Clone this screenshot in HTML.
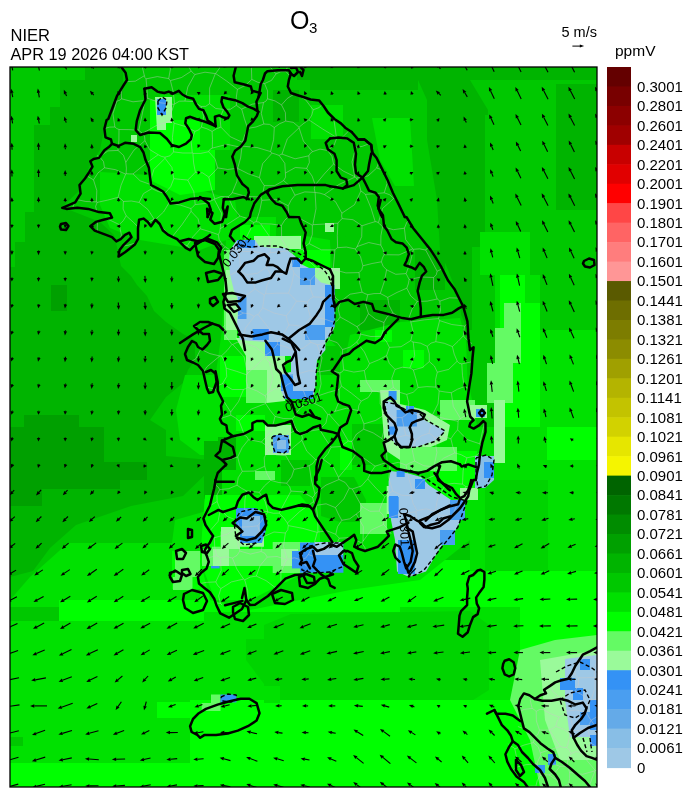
<!DOCTYPE html><html><head><meta charset="utf-8"><style>html,body{margin:0;padding:0;background:#fff;}svg{display:block;}text{font-family:"Liberation Sans",Arial,sans-serif;fill:#000;}.lb{font-size:15px;}</style></head><body>
<svg width="692" height="798" viewBox="0 0 692 798">
<rect width="692" height="798" fill="#fff"/>
<text x="290" y="28.8" style="font-size:25px">O</text>
<text x="309" y="33.4" style="font-size:15px">3</text>
<text x="10.5" y="41.2" style="font-size:16.5px">NIER</text>
<text x="10.5" y="59.5" style="font-size:16.5px" textLength="178.5" lengthAdjust="spacingAndGlyphs">APR 19 2026 04:00 KST</text>
<text x="561.5" y="37.2" style="font-size:14.5px">5 m/s</text>
<path d="M572.4 46.1 H581" stroke="#000" stroke-width="1"/><path d="M584.2 46.1 L579.8 44.6 L579.8 47.6 Z" fill="#000"/>
<text x="615" y="56.3" style="font-size:15.5px">ppmV</text>
<defs><clipPath id="mc"><rect x="10" y="67" width="587" height="720"/></clipPath></defs>
<g clip-path="url(#mc)">
<rect x="10" y="67" width="587" height="720" fill="#00c800"/>
<polygon points="60,80 85,80 85,67 123,67 123,96 112,112 104,130 100,150 90,165 80,190 62,207 100,222 114,235 117,247 121,266 131,276 137,285 147,296 154,311 166,322 183,334 195,340 195,360 188,370 183,383 166,397 150,420 166,430 166,456 210,460 210,470 183,496 131,506 76,525 50,548 33,571 10,577 10,267 15,267 15,242 25,242 25,212 34,212 34,125 50,125 50,107 60,107" fill="#00b400"/>
<polygon points="24,415 79,415 79,427 104,427 104,462 147,462 147,480 120,480 120,489 42,489 42,506 10,506 10,427 24,427" fill="#00a000"/>
<polygon points="51,285 67,285 67,311 51,311" fill="#00a000"/>
<polygon points="10,600 30,577 68,543 172,543 175,520 210,510 210,607 10,607" fill="#00e100"/>
<polygon points="10,589 210,589 210,551 172,551 172,589" fill="#00ff00"/>
<polygon points="59,600 210,600 210,621 59,621" fill="#00ff00"/>
<polygon points="10,621 210,621 210,763 10,763" fill="#00e100"/>
<polygon points="157,702 210,702 210,718 157,718" fill="#00ff00"/>
<polygon points="10,763 210,763 210,787 10,787" fill="#00ff00"/>
<polygon points="10,737 23,737 23,746 10,746" fill="#00c800"/>
<polygon points="204,600 520,600 520,787 204,787" fill="#00e100"/>
<polygon points="204,594 400,594 400,612 204,612" fill="#00ff00"/>
<polygon points="246,639 264,639 264,625 291,614 470,611 489,625 489,690 470,702 343,706 265,703 264,684 246,660" fill="#00d400"/>
<polygon points="190,700 560,700 560,787 190,787" fill="#00ff00"/>
<polygon points="264,686 280,686 280,703 264,703" fill="#00e100"/>
<polygon points="520,600 597,600 597,787 520,787" fill="#00ff00"/>
<polygon points="400,600 520,600 520,611 400,611" fill="#00e100"/>
<polygon points="200,560 470,560 470,607 200,607" fill="#00ff00"/>
<polygon points="297,67 597,67 597,80 297,80" fill="#00b400"/>
<polygon points="310,80 418,80 418,90 310,90" fill="#00b400"/>
<polygon points="330,95 380,92 418,90 427,100 427,140 437,200 440,260 460,300 462,330 440,330 420,250 404,217 380,170 350,130" fill="#00c800"/>
<polygon points="372,118 410,118 414,186 395,186 380,160" fill="#00e100"/>
<polygon points="418,80 470,80 488,110 488,300 475,330 462,330 460,300 440,250 437,200 427,140 427,100" fill="#00b400"/>
<polygon points="485,115 556,115 556,275 485,275" fill="#00c800"/>
<polygon points="556,84 597,84 597,210 556,210" fill="#00b400"/>
<polygon points="540,210 597,210 597,330 540,330" fill="#00c800"/>
<polygon points="488,275 540,275 540,330 488,330" fill="#00e100"/>
<polygon points="495,330 597,330 597,427 495,427" fill="#00e100"/>
<polygon points="472,247 495,247 495,391 472,391" fill="#00c800"/>
<polygon points="480,232 530,232 530,275 480,275" fill="#00e100"/>
<polygon points="500,275 525,275 525,303 500,303" fill="#00ff00"/>
<polygon points="500,303 540,303 540,427 500,427" fill="#00ff00"/>
<polygon points="504,303 521,303 521,363 513,363 513,403 504,403 504,427 495,427 495,403 487,403 487,363 495,363 495,328 504,328" fill="#64fa64"/>
<polygon points="470,427 597,427 597,571 470,571" fill="#00e100"/>
<polygon points="485,480 548,480 548,571 485,571" fill="#00d400"/>
<polygon points="495,427 504,427 504,456 495,456" fill="#9afa9a"/>
<polygon points="470,571 597,571 597,607 470,607" fill="#00ff00"/>
<polygon points="547,427 597,427 597,460 547,460" fill="#00ff00"/>
<polygon points="100,172 150,175 200,190 235,200 240,235 200,250 140,240 110,228 100,205" fill="#00e100"/>
<polygon points="150,100 200,100 215,130 215,190 180,195 150,180" fill="#00ff00"/>
<polygon points="160,95 230,95 230,150 160,150" fill="#00e100"/>
<polygon points="160,120 200,120 200,150 160,150" fill="#00ff00"/>
<polygon points="157,135 185,135 185,170 157,170" fill="#00ff00"/>
<polygon points="273,90 299,90 299,122 273,122" fill="#00b400"/>
<polygon points="311,105 343,105 343,139 311,139" fill="#00e100"/>
<polygon points="233,217 276,217 276,247 233,247" fill="#00e100"/>
<polygon points="240,225 270,225 270,247 240,247" fill="#00ff00"/>
<polygon points="325,223 334,223 334,232 325,232" fill="#9afa9a"/>
<polygon points="131,135 137,135 137,142 131,142" fill="#9afa9a"/>
<polygon points="155,97 172,97 172,123 166,123 166,130 157,130" fill="#9afa9a"/>
<polygon points="157,99 166,99 166,115 157,115" fill="#3492f5"/>
<polygon points="226,240 300,235 330,240 334,289 320,300 320,330 340,350 360,380 400,380 470,390 480,440 480,520 470,540 420,580 350,590 300,600 250,610 210,600 200,560 205,500 215,470 215,380 222,330" fill="#00e100"/>
<polygon points="185,375 215,375 222,400 222,455 200,455 180,440 176,410" fill="#00e100"/>
<polygon points="330,240 380,230 420,240 445,280 468,330 468,380 430,380 400,370 360,365 340,350 325,330 334,289" fill="#00c800"/>
<polygon points="360,300 400,300 400,330 360,330" fill="#00b400"/>
<polygon points="415,250 445,250 445,290 415,290" fill="#00b400"/>
<polygon points="318,346 340,346 340,375 318,375" fill="#00c800"/>
<polygon points="218,437 236,437 236,470 218,470" fill="#00b400"/>
<polygon points="204,441 222,441 222,499 204,499" fill="#00b400"/>
<polygon points="321,477 354,477 366,500 366,522 340,522 321,516" fill="#00c800"/>
<polygon points="352,424 386,424 386,465 352,465" fill="#00c800"/>
<polygon points="281,460 310,460 310,486 281,486" fill="#00c800"/>
<polygon points="350,335 400,322 460,318 466,340 468,395 400,392 360,380 345,360" fill="#00e100"/>
<polygon points="403,350 424,350 424,368 403,368" fill="#00ff00"/>
<polygon points="375,330 392,330 392,342 375,342" fill="#00ff00"/>
<polygon points="205,495 300,495 320,520 320,560 300,575 250,600 215,600 200,560" fill="#00ff00"/>
<polygon points="220,356 247,356 247,397 220,397" fill="#00ff00"/>
<polygon points="236,415 265,415 265,431 236,431" fill="#00ff00"/>
<polygon points="231,546 273,546 273,573 231,573" fill="#00ff00"/>
<polygon points="300,250 330,250 330,270 300,270" fill="#00ff00"/>
<polygon points="340,440 352,440 352,470 340,470" fill="#00ff00"/>
<polygon points="430,451 477,451 477,500 430,500" fill="#00ff00"/>
<polygon points="224,250 237,250 237,340 224,340" fill="#64fa64"/>
<polygon points="226,270 238,270 238,330 226,330" fill="#9afa9a"/>
<polygon points="254,236 301,236 301,249 254,249" fill="#9afa9a"/>
<polygon points="313,268 340,268 340,289 313,289" fill="#9afa9a"/>
<polygon points="236,338 267,338 285,356 285,401 267,403 246,403 246,356" fill="#9afa9a"/>
<polygon points="246,370 267,370 267,403 246,403" fill="#64fa64"/>
<polygon points="237,240 255,240 259,246 271,248 285,248 295,256 301,264 309,268 315,276.5 321,282.6 329.5,284.6 334.5,288.7 334.5,327 331,335 325.4,340 325.4,350 317,360 316,375 315,391 313,399 285,399 281,391 281,374 291,372 291,356 265,356 265,342 240,340 238,331 237,321 238,311 237,297 234,291 230,274.5 229,260 230,250" fill="#9ec8e6"/>
<polygon points="237,240 255,240 255,248 237,248" fill="#3492f5"/>
<polygon points="292,258 300,258 300,267 292,267" fill="#3492f5"/>
<polygon points="300,268 315,268 315,285 300,285" fill="#4a9ef0"/>
<polygon points="325,285 334.5,285 334.5,327 325,327" fill="#3492f5"/>
<polygon points="238,297 246.5,297 246.5,319 238,319" fill="#4a9ef0"/>
<polygon points="252.6,329 268.8,329 268.8,340 252.6,340" fill="#3492f5"/>
<polygon points="305,325 325,325 325,340 305,340" fill="#4a9ef0"/>
<polygon points="281,374.5 293,374.5 293,391 281,391" fill="#3492f5"/>
<polygon points="285,391 313,391 313,399 285,399" fill="#3492f5"/>
<polygon points="265,342 280,342 280,356 265,356" fill="#3492f5"/>
<polygon points="265,425 291,425 291,455 265,455" fill="#9afa9a"/>
<polygon points="273,435 289,435 289,453 273,453" fill="#4a9ef0"/>
<polygon points="277,440 286,440 286,449 277,449" fill="#88bee6"/>
<polygon points="360,380 400,380 400,392 360,392" fill="#64fa64"/>
<polygon points="380,390 400,390 400,404 425,410 450,425 447,440 431,447 425,460 400,460 385,450" fill="#9afa9a"/>
<polygon points="400,447 457,447 457,471 400,471" fill="#64fa64"/>
<polygon points="388.6,391 396.6,391 396.6,400 388.6,400" fill="#3492f5"/>
<polygon points="384.5,400.2 398.7,404.3 406.8,410.3 416.9,410.3 425,420.5 445.2,430.6 435.1,440.7 416.9,446.8 400.7,447.8 394.6,442.7 388.6,434.6 388.6,426.5 386.5,410.3" fill="#9ec8e6"/>
<polygon points="396.6,410 416.9,410 416.9,426.5 396.6,426.5" fill="#4a9ef0"/>
<polygon points="388.6,426.5 396.6,426.5 396.6,434.6 388.6,434.6" fill="#3492f5"/>
<polygon points="406,406 414,406 414,412 406,412" fill="#3492f5"/>
<polygon points="440,400 475,400 475,420 440,420" fill="#64fa64"/>
<polygon points="470,405 487,405 487,418 470,418" fill="#9afa9a"/>
<polygon points="476,409 485,409 485,417 476,417" fill="#3492f5"/>
<polygon points="360,503 387,503 387,534 360,534" fill="#64fa64"/>
<polygon points="386.7,486 404,486 404,514 386.7,514" fill="#9afa9a"/>
<polygon points="390.6,471 406.8,473 421,477 429,485.2 441.2,493.3 453.3,501.4 465.4,509.5 461,520 455,531 440,548 426,571.5 409,577 397,571.5 395,540 391,520 388.6,501.4 388.6,481.2" fill="#9ec8e6"/>
<polygon points="396.6,471 404.7,471 404.7,477 396.6,477" fill="#3492f5"/>
<polygon points="415,479 425,479 425,489 415,489" fill="#3492f5"/>
<polygon points="388.6,497 398.7,497 398.7,511.5 388.6,511.5" fill="#3492f5"/>
<polygon points="389,496 398,496 398,518 389,518" fill="#3492f5"/>
<polygon points="398,540 415,540 415,574 398,574" fill="#3492f5"/>
<polygon points="450,500 465,500 465,520 450,520" fill="#4a9ef0"/>
<polygon points="440,530 455,530 455,545 440,545" fill="#4a9ef0"/>
<polygon points="475,456 494,456 494,480 485,488 475,488" fill="#88bee6"/>
<polygon points="484,462 494,462 494,478 484,478" fill="#3492f5"/>
<polygon points="460,488 478,488 478,500 460,500" fill="#9afa9a"/>
<polygon points="494,400 505,400 505,463 494,463" fill="#9afa9a"/>
<polygon points="255,471 275,471 275,480 255,480" fill="#64fa64"/>
<polygon points="220.7,531.5 264,531.5 264,546.7 220.7,546.7" fill="#9afa9a"/>
<polygon points="212,546.7 231.5,546.7 231.5,562 212,562" fill="#64fa64"/>
<polygon points="272.7,542 310,542 310,573 272.7,573" fill="#64fa64"/>
<polygon points="236,508 256,508 266,516 266,530 262,543 240,543 236,530" fill="#3492f5"/>
<polygon points="242,516 260,516 260,536 242,536" fill="#88bee6"/>
<polygon points="211,559.7 219.6,559.7 219.6,568.4 211,568.4" fill="#3492f5"/>
<polygon points="173,577 192.5,577 192.5,590 173,590" fill="#64fa64"/>
<polygon points="175,551 200,551 200,577 175,577" fill="#64fa64"/>
<polygon points="202,549 304,549 304,566 202,566" fill="#64fa64"/>
<polygon points="213,549 229,549 229,566 213,566" fill="#9afa9a"/>
<polygon points="281,549 298,549 298,566 281,566" fill="#9afa9a"/>
<polygon points="221,527 240,527 240,549 221,549" fill="#9afa9a"/>
<polygon points="292,551 310,551 310,568.4 292,568.4" fill="#3492f5"/>
<polygon points="300,542.4 343.4,542.4 343.4,572.7 300,572.7" fill="#3492f5"/>
<polygon points="315,542 343,542 343,555 315,555" fill="#9ec8e6"/>
<polygon points="201.7,703 211,703 211,711 201.7,711" fill="#64fa64"/>
<polygon points="211,694.5 220.5,694.5 220.5,711 211,711" fill="#64fa64"/>
<polygon points="220.5,694.5 236.4,694.5 236.4,702.4 220.5,702.4" fill="#3492f5"/>
<polygon points="520,650 555,640 597,635 597,787 540,787 530,740 510,700" fill="#64fa64"/>
<polygon points="540,660 597,650 597,760 560,760 545,720" fill="#9afa9a"/>
<polygon points="565,659 597,655 597,737 570,737 565,700" fill="#9ec8e6"/>
<polygon points="580,659 590,659 590,670 580,670" fill="#3492f5"/>
<polygon points="573,688 583,688 583,700 573,700" fill="#3492f5"/>
<polygon points="590,700 597,700 597,730 590,730" fill="#3492f5"/>
<polygon points="580,712 590,712 590,725 580,725" fill="#4a9ef0"/>
<polygon points="590,735 597,735 597,746 590,746" fill="#3492f5"/>
<polygon points="560,678 575,678 575,690 560,690" fill="#3492f5"/>
<polygon points="535,765 545,765 545,773 535,773" fill="#3492f5"/>
<polygon points="548,754 556,754 556,765 548,765" fill="#3492f5"/>
<g fill="none" stroke="#c8c8c8" stroke-width="0.8" stroke-opacity="0.55">
<path d="M467.3 323.8L464.6 326.1M472.0 343.5L469.3 342.2L463.3 335.9M464.6 326.1L463.8 331.0L463.3 335.9M459.3 298.1L449.6 297.8L439.8 301.2M439.6 320.6L451.8 324.5L464.6 326.1M439.6 320.6L439.1 319.6L438.6 318.6M439.8 301.2L440.5 310.0L438.6 318.6M144.9 100.5L142.0 115.4L138.8 130.3M144.9 100.5L133.0 101.8L121.5 98.8M116.9 101.1L119.4 100.4L121.5 98.8M116.9 101.1L112.9 113.8L114.9 127.0M138.8 130.3L128.9 129.6L119.0 129.5M114.9 127.0L116.7 128.5L119.0 129.5M115.2 100.7L116.9 101.1M104.5 128.5L109.6 127.1L114.9 127.0M104.5 128.5L104.2 128.4M376.7 168.0L368.1 175.9L356.6 178.0M376.7 168.0L381.8 169.7M365.4 194.4L374.9 193.7L384.2 192.8M365.4 194.4L363.2 192.6L360.9 191.0M360.9 191.0L359.2 184.4L356.6 178.0M384.2 192.8L387.1 183.5L386.4 178.8M382.6 226.7L380.9 235.8L380.8 245.1M382.6 226.7L380.4 224.8L378.4 222.7M378.4 222.7L376.9 221.9L375.2 221.6M375.2 221.6L368.6 223.6L362.0 225.8M380.8 245.1L368.7 242.5L357.0 246.6M357.0 246.6L361.7 236.7L362.0 225.8M404.4 228.2L393.4 229.7L382.6 226.7M404.4 228.2L406.9 222.1L409.1 220.1M395.2 197.8L393.8 198.4M393.8 198.4L382.6 208.4L378.4 222.7M365.4 194.4L370.9 207.8L375.2 221.6M384.2 192.8L389.5 194.7L393.8 198.4M360.9 191.0L354.5 204.7L341.9 213.2M341.9 213.2L341.6 215.9L342.2 218.6M342.2 218.6L353.0 219.7L362.0 225.8M342.2 218.6L339.9 220.7L337.9 223.2M337.9 223.2L337.3 235.4L337.6 247.7M355.1 248.9L346.4 247.1L337.6 247.7M355.1 248.9L356.4 248.0L357.0 246.6M334.9 249.9L336.1 248.6L337.6 247.7M334.9 249.9L334.1 259.7L333.1 269.4M333.1 269.4L345.9 272.9L359.1 272.6M355.1 248.9L360.5 256.7L362.9 265.8M362.9 265.8L361.8 269.7L359.1 272.6M442.0 269.0L437.1 271.2M439.8 301.2L438.7 299.9L437.2 299.0M437.2 299.0L433.5 288.6L433.6 277.5M437.1 271.2L436.3 274.8L433.6 277.5M428.0 248.0L428.9 248.0M428.0 248.0L426.6 248.8L425.7 250.1M425.7 250.1L431.4 260.6L437.1 271.2M428.2 247.1L428.0 248.0M333.5 164.0L324.1 174.2L315.2 184.9M333.5 164.0L343.5 171.2L354.7 176.6M354.7 176.6L354.8 176.9L355.0 177.1M355.0 177.1L338.9 184.5L324.4 194.6M324.4 194.6L319.9 193.1L315.1 192.5M315.2 184.9L314.3 188.7L315.0 192.4M315.1 192.5L315.1 192.5L315.0 192.4M336.7 138.0L339.1 138.0L341.5 138.0M336.7 138.0L334.0 145.5L327.7 150.5M327.7 150.5L332.0 156.6L333.5 164.0M341.5 138.0L350.0 140.6L355.9 147.3M355.9 147.3L352.0 161.8L354.7 176.6M378.5 163.0L376.7 168.0M372.9 148.7L368.5 144.5M356.6 178.0L355.9 177.4L355.0 177.1M355.9 147.3L362.2 146.4L367.9 144.2M341.9 213.2L335.5 201.7L324.4 194.6M337.9 223.2L325.4 224.0L312.9 224.7M312.9 224.7L316.0 208.7L315.1 192.5M277.2 344.5L285.8 346.8L294.0 350.3M277.2 344.5L272.3 350.5L266.0 355.1M266.0 355.1L266.1 355.5L266.0 355.8M266.0 355.8L266.8 359.5L269.3 362.3M269.3 362.3L281.4 371.5L295.6 376.8M295.6 376.8L297.3 375.0L299.1 373.5M299.1 373.5L299.2 361.3L294.0 350.3M266.0 355.1L255.2 346.9L242.3 342.4M266.0 355.8L256.9 364.8L247.5 373.5M247.5 373.5L244.1 356.9L232.7 344.5M242.3 342.4L237.3 342.3L232.7 344.5M214.3 537.8L214.7 546.9L216.6 555.7M214.3 537.8L212.1 534.4L209.8 531.0M216.6 555.7L207.2 558.1M209.8 531.0L209.3 530.9M121.5 98.8L121.7 90.0L123.0 86.4M119.3 224.6L121.4 235.0L120.4 238.3M119.3 224.6L109.0 219.7L107.3 219.2M97.6 221.6L97.2 227.8L97.5 231.9M76.6 199.5L85.8 201.5L96.4 201.9M74.5 202.2L72.7 208.0M95.9 211.4L96.6 210.8M96.6 210.8L95.6 206.5L97.1 202.4M97.1 202.4L96.8 202.1L96.4 201.9M119.3 224.6L123.3 220.7L126.2 215.8M118.1 197.3L121.1 199.0L123.4 201.5M118.1 197.3L107.7 200.1L97.1 202.4M96.8 211.6L96.6 210.8M126.2 215.8L123.1 209.0L123.4 201.5M196.3 324.5L202.3 322.4M336.4 137.4L334.2 121.4L334.4 119.3M336.4 137.4L322.5 128.9L308.9 119.9M308.9 119.9L311.8 115.1L313.2 109.8M313.2 109.8L319.0 107.6L322.4 104.4M438.6 318.6L424.7 319.8L410.8 321.9M417.2 301.5L427.3 301.1L437.2 299.0M417.2 301.5L412.0 309.3L408.9 318.2M408.9 318.2L410.3 319.8L410.8 321.9M439.6 320.6L437.0 331.0L435.8 341.7M463.3 335.9L458.0 341.4L452.4 346.6M435.8 341.7L444.4 343.3L452.4 346.6M402.0 417.6L403.7 426.4L405.8 435.2M402.0 417.6L405.9 415.1L408.3 411.1M405.8 435.2L411.3 436.6L415.4 440.4M408.3 411.1L418.6 415.4L429.5 417.6M429.5 417.6L430.8 425.5L428.9 433.3M415.4 440.4L421.6 435.7L428.9 433.3M312.6 151.6L310.3 153.3L308.8 155.8M312.6 151.6L320.0 149.1L327.7 150.5M315.2 184.9L312.1 176.1L306.7 168.4M308.8 155.8L309.4 162.4L306.7 168.4M173.6 151.9L172.4 137.5L174.1 123.2M173.6 151.9L182.9 153.0L192.3 153.0M174.1 123.2L184.9 126.4L195.0 131.3M195.0 131.3L191.2 141.8L192.3 153.0M312.6 151.6L303.4 141.1L299.1 127.8M308.8 155.8L295.1 158.8L282.0 154.1M282.0 154.1L287.3 138.9L299.1 127.8M336.7 138.0L336.5 137.7L336.4 137.4M308.9 119.9L303.8 123.3L299.0 127.2M299.1 127.8L299.1 127.5L299.0 127.2M293.9 273.4L301.3 279.1L310.5 280.2M293.9 273.4L291.8 283.5L288.5 293.2M310.5 280.2L310.3 288.8L313.4 296.9M288.5 293.2L292.7 297.0L296.5 301.2M296.5 301.2L302.0 301.3L307.4 302.1M307.4 302.1L309.8 298.9L313.4 296.9M332.6 269.9L331.0 284.1L335.4 297.6M332.6 269.9L326.4 271.1L320.1 271.0M320.1 271.0L314.9 275.2L310.5 280.2M313.4 296.9L324.4 297.4L335.4 297.6M293.9 273.4L293.4 270.8L291.6 268.9M291.6 268.9L282.2 274.8L271.4 277.7M288.5 293.2L277.0 293.2L265.5 293.9M271.4 277.7L267.0 285.3L265.5 293.9M320.1 271.0L309.4 261.6L302.7 249.0M291.6 268.9L293.4 260.6L291.9 252.3M291.9 252.3L297.4 250.8L302.7 249.0M334.9 249.9L321.3 249.8L309.1 243.6M333.1 269.4L332.8 269.6L332.6 269.9M302.7 249.0L305.7 246.1L309.1 243.6M312.9 224.7L312.7 224.9L312.4 225.2M309.1 243.6L312.3 234.6L312.4 225.2M404.4 228.2L405.7 239.7L412.8 248.8M380.8 245.1L383.1 249.6L384.1 254.7M412.8 248.8L399.1 254.9L384.1 254.7M425.7 250.1L419.6 248.8L413.4 249.3M412.8 248.8L413.1 249.1L413.4 249.3M362.9 265.8L372.1 263.5L381.4 261.8M384.1 254.7L382.4 258.1L381.4 261.8M209.8 531.0L218.0 521.5L220.5 509.2M209.6 505.9L209.9 505.8L217.2 501.5M217.2 501.5L218.6 505.4L220.5 509.2M219.7 489.6L216.9 495.2L217.2 501.5M219.7 489.6L218.2 487.1L216.0 485.3M216.0 485.3L214.4 485.3M313.6 501.6L313.1 499.5L312.5 497.5M313.6 501.6L299.8 511.5L287.4 523.0M312.5 497.5L302.5 491.9L291.0 491.1M291.0 491.1L285.0 502.1L279.1 513.1M287.4 523.0L283.6 517.8L279.1 513.1M339.0 479.5L326.0 485.1L314.9 493.8M339.0 479.5L345.2 482.5L349.3 488.1M316.2 505.4L314.4 503.8L313.6 501.6M316.2 505.4L326.1 503.8L335.4 507.6M314.9 493.8L314.1 495.9L312.5 497.5M349.3 488.1L343.8 498.9L335.4 507.6M317.9 532.0L317.6 532.3L317.2 532.4M317.9 532.0L317.8 518.7L316.2 505.4M317.2 532.4L302.9 528.4L288.3 525.6M288.3 525.6L287.8 524.3L287.4 523.0M220.2 557.7L218.5 556.5L216.6 555.7M220.2 557.7L221.2 570.4L215.8 581.9M215.8 581.9L206.1 582.4L199.0 583.8M314.3 556.6L308.3 554.5M308.3 554.5L305.6 558.2L301.3 559.9M301.3 559.9L306.3 566.5M274.6 587.1L274.4 587.6M274.6 587.1L276.3 586.4M226.2 368.2L224.6 361.7L221.5 355.8M226.2 368.2L226.7 376.5L222.5 383.7M222.5 383.7L218.1 385.5L215.4 389.3M219.8 356.0L220.7 355.8L221.5 355.8M219.8 356.0L206.9 366.8L203.3 372.3M215.4 389.3L207.1 387.2L206.8 387.3M247.5 373.5L247.1 374.1L246.7 374.8M246.7 374.8L236.5 371.3L226.2 368.2M232.7 344.5L232.3 344.6L231.9 344.5M231.9 344.5L227.1 350.5L221.5 355.8M200.8 349.2L200.4 346.5M200.8 349.2L209.9 353.6L219.8 356.0M195.8 327.8L196.1 324.6M222.1 328.0L226.1 336.8L231.9 344.5M222.1 328.0L217.1 324.5L217.0 324.5M190.7 361.7L195.8 358.8L200.8 349.2M126.0 81.7L135.3 81.2L144.4 75.7M142.3 67.0L144.4 75.7M93.5 179.9L86.5 175.6M93.5 179.9L98.0 172.9L104.5 167.8M104.5 167.8L103.5 161.6L99.6 156.8M99.6 156.8L97.0 155.7M96.4 201.9L96.8 190.6L93.5 179.9M118.1 197.3L121.0 185.4L125.7 174.1M125.7 174.1L115.5 169.7L104.5 167.8M104.5 128.5L104.0 129.1M119.0 129.5L118.9 140.0L118.0 150.4M118.0 150.4L107.9 150.9L99.6 156.8M135.8 242.9L128.0 245.3L122.8 245.9M135.8 242.9L136.0 243.0M119.9 249.0L120.1 255.5M126.2 215.8L133.5 222.4L138.6 227.5M136.8 241.4L135.8 242.9M219.2 253.3L225.1 246.8M225.1 246.8L223.8 245.3L222.1 244.0M222.1 244.0L219.1 245.1M123.4 201.5L131.3 201.0L139.1 202.4M148.2 222.3L154.1 219.1M139.1 202.4L147.9 209.5L154.1 219.1M384.8 497.0L388.5 493.7L392.7 491.0M384.8 497.0L376.0 488.2L367.7 478.9M392.7 491.0L388.8 477.9L390.2 464.3M367.7 478.9L371.0 472.3L375.1 466.2M375.1 466.2L381.1 464.2L387.2 462.5M387.2 462.5L388.7 463.5L390.2 464.3M379.2 511.1L370.0 511.3L362.1 506.8M379.2 511.1L381.7 503.9L384.8 497.0M362.1 506.8L357.1 497.9L352.3 489.0M352.3 489.0L361.4 486.0L367.7 478.9M338.5 477.3L348.1 465.9L356.3 453.4M338.5 477.3L338.6 478.4L339.0 479.5M356.3 453.4L365.9 459.5L375.1 466.2M352.3 489.0L350.8 488.5L349.3 488.1M406.0 465.0L398.2 462.3L390.2 464.3M406.0 465.0L410.2 462.8L414.6 461.1M405.8 435.2L394.9 438.0L387.2 446.2M387.2 446.2L386.7 454.4L387.2 462.5M415.4 440.4L412.4 450.6L414.6 461.1M406.0 465.0L408.8 478.5L412.8 491.7M392.7 491.0L401.5 495.2L411.3 495.8M412.8 491.7L411.6 493.6L411.3 495.8M386.2 413.9L375.7 420.4L363.9 423.9M386.2 413.9L390.6 415.3L394.4 418.0M394.4 418.0L385.2 426.5L381.8 438.5M381.8 438.5L373.2 432.9L363.7 429.2M363.9 423.9L363.9 426.5L363.7 429.2M402.0 417.6L398.2 417.6L394.4 418.0M387.2 446.2L385.3 441.8L381.8 438.5M352.0 441.5L353.5 447.7L356.3 453.4M352.0 441.5L356.5 434.1L363.7 429.2M358.1 410.5L358.8 405.5L361.2 401.1M358.1 410.5L346.5 408.2L335.1 411.3M361.2 401.1L351.6 393.3L341.4 386.1M341.4 386.1L340.2 387.8L339.1 389.5M339.1 389.5L339.3 400.8L335.1 411.3M319.8 371.8L330.0 370.2L339.9 372.9M319.8 371.8L321.1 383.9L318.2 395.8M341.4 386.1L340.0 379.6L339.9 372.9M339.1 389.5L328.6 392.3L318.2 395.8M352.0 441.5L350.1 441.5L348.3 441.1M348.3 441.1L340.1 426.8L329.2 414.4M358.1 410.5L361.3 417.1L363.9 423.9M329.2 414.4L332.1 412.9L335.1 411.3M361.2 401.1L368.2 397.6L372.4 391.0M386.2 413.9L380.2 403.9L380.2 392.3M380.2 392.3L376.4 391.3L372.4 391.0M408.3 411.1L408.7 402.7L406.7 394.4M406.7 394.4L399.4 392.2L393.4 387.5M380.2 392.3L387.4 391.3L393.4 387.5M343.7 369.8L342.2 371.8L339.9 372.9M343.7 369.8L353.9 372.1L364.3 370.5M372.4 391.0L366.4 381.5L364.3 370.5M471.9 361.5L470.5 362.0L461.8 363.9M468.9 388.5L464.2 386.7M461.8 363.9L462.5 375.4L464.2 386.7M452.4 346.6L454.2 354.1L457.2 361.2M461.8 363.9L459.1 363.2L457.2 361.2M432.2 415.4L438.0 403.9L439.2 391.0M432.2 415.4L445.1 418.6L458.1 421.3M460.5 418.5L459.0 419.6L458.1 421.3M460.5 418.5L453.3 406.5L451.3 392.7M451.3 392.7L445.2 392.0L439.2 391.0M469.5 414.4L467.3 414.4L460.5 418.5M464.2 386.7L457.5 389.2L451.3 392.7M484.5 422.5L482.4 431.8L479.7 443.8M458.1 421.3L457.9 425.5L457.6 429.8M457.6 429.8L466.9 439.5L479.7 443.8M481.5 446.7L479.7 443.8M341.5 138.0L348.5 131.2M238.6 250.8L231.3 250.7L225.1 246.8M238.6 250.8L246.6 237.0L253.8 222.6M222.1 244.0L219.2 239.7L218.3 234.6M240.0 216.1L247.3 218.5L253.8 222.6M240.0 216.1L230.1 222.6L220.2 228.7M220.2 228.7L219.7 231.8L218.3 234.6M195.0 131.3L198.8 129.9L201.4 127.0M192.3 153.0L192.7 153.2L192.9 153.4M212.3 148.1L212.5 139.7L212.1 131.4M212.3 148.1L209.9 149.4L208.6 151.7M192.9 153.4L200.8 153.4L208.6 151.7M201.4 127.0L206.9 128.8L212.1 131.4M242.4 142.3L242.3 144.3L242.8 146.2M242.4 142.3L230.2 136.7L220.9 127.1M212.3 148.1L227.0 144.3L241.9 147.5M241.9 147.5L242.1 146.8L242.8 146.2M220.9 127.1L216.3 128.8L212.1 131.4M270.6 151.6L273.6 139.7L274.3 127.5M270.6 151.6L256.9 147.5L242.8 146.2M247.7 128.4L256.0 127.0L263.9 124.0M247.7 128.4L244.7 135.2L242.4 142.3M274.3 127.5L269.6 124.4L263.9 124.0M247.7 128.4L244.4 118.8L241.7 109.1M263.9 124.0L261.3 113.3L263.5 102.5M241.7 109.1L252.1 104.2L263.5 102.5M296.5 301.2L291.8 308.8L286.3 315.8M307.4 302.1L308.4 309.8L310.5 317.3M288.9 324.9L287.2 320.5L286.3 315.8M288.9 324.9L297.0 325.5L305.0 326.8M305.0 326.8L307.2 321.7L310.5 317.3M277.2 344.5L277.6 342.7L277.4 340.8M294.0 350.3L303.2 348.1L310.9 342.4M288.9 324.9L283.9 333.4L277.4 340.8M305.0 326.8L306.5 335.1L310.9 342.4M299.1 373.5L309.0 370.7L319.3 371.5M319.3 371.5L322.0 357.9L317.2 344.8M310.9 342.4L314.1 343.4L317.2 344.8M359.1 272.6L359.6 282.5L362.1 292.2M335.4 297.6L337.8 299.7L340.4 301.6M340.4 301.6L350.1 294.2L362.1 292.2M255.1 288.9L259.5 292.1L264.3 294.8M255.1 288.9L243.1 297.7L228.2 299.1M264.3 294.8L263.6 301.3L262.7 307.8M262.7 307.8L260.4 311.2L258.1 314.7M228.2 299.1L233.9 308.2L243.5 313.1M243.5 313.1L249.2 313.7L254.3 316.4M254.3 316.4L256.0 315.0L258.1 314.7M265.5 293.9L264.8 294.3L264.3 294.8M286.3 315.8L274.1 313.1L262.7 307.8M277.4 340.8L268.2 327.4L258.1 314.7M222.1 328.0L224.9 325.3M232.7 318.4L243.5 313.1M224.0 298.2L224.7 298.5L228.2 299.1M242.3 342.4L245.4 328.1L254.3 316.4M240.4 269.6L239.8 260.6L239.1 251.6M240.4 269.6L243.1 272.7L246.6 274.7M246.6 274.7L257.4 273.3L266.4 267.2M239.1 251.6L253.7 251.4L268.0 254.2M268.0 254.2L267.0 260.7L266.4 267.2M238.6 250.8L238.7 251.3L239.1 251.6M224.4 280.3L227.0 276.9L240.4 269.6M255.1 288.9L252.2 281.0L246.6 274.7M271.4 277.7L269.6 272.1L266.4 267.2M291.9 252.3L290.8 251.1L289.1 250.7M268.0 254.2L269.1 253.5L270.3 252.9M270.3 252.9L279.7 251.5L289.1 250.7M409.1 279.5L407.6 276.5L406.1 273.6M409.1 279.5L408.3 284.0L406.8 288.2M406.1 273.6L395.8 274.3L386.6 269.8M406.8 288.2L397.1 292.4L387.7 297.4M386.6 269.8L384.2 281.9L380.3 293.5M387.7 297.4L384.0 295.4L380.3 293.5M433.6 277.5L421.2 277.0L409.1 279.5M413.4 249.3L410.5 261.7L406.1 273.6M417.2 301.5L410.7 295.9L406.8 288.2M381.4 261.8L383.2 266.3L386.6 269.8M392.9 312.9L400.2 317.7L408.9 318.2M392.9 312.9L389.1 305.5L387.7 297.4M362.1 292.2L364.9 293.6L367.8 294.7M367.8 294.7L374.0 293.6L380.3 293.5M308.3 554.5L314.1 544.0L317.2 532.4M288.3 525.6L287.8 529.7L285.4 533.0M301.3 559.9L294.3 557.8L287.2 559.3M285.4 533.0L283.5 546.3L287.2 559.3M280.9 583.1L280.9 571.9L286.4 559.8M286.4 559.8L286.8 559.6L287.2 559.3M256.3 576.1L266.0 580.6L274.6 587.1M256.3 576.1L260.1 565.6L267.2 557.1M286.4 559.8L277.1 556.5L267.2 557.1M219.7 489.6L228.7 488.7L237.0 485.2M237.0 485.2L241.6 488.3L246.4 490.9M246.4 490.9L244.9 500.0L244.7 509.3M220.5 509.2L227.2 516.5L236.4 520.2M244.7 509.3L241.1 515.2L236.4 520.2M246.4 490.9L252.8 491.6L259.3 492.3M259.3 492.3L265.1 501.3L267.8 511.7M244.7 509.3L256.3 510.2L267.8 511.7M286.7 483.2L289.7 486.7L291.0 491.1M286.7 483.2L278.6 482.5L270.7 480.3M270.7 480.3L264.5 485.8L259.3 492.3M279.1 513.1L273.5 513.3L268.0 512.0M267.8 511.7L267.9 511.9L268.0 512.0M214.3 537.8L227.7 534.0L239.0 525.7M239.0 525.7L237.9 522.9L236.4 520.2M341.8 520.3L349.8 518.8L356.3 514.0M341.8 520.3L337.5 526.7L335.8 534.3M356.3 514.0L363.4 526.7L363.0 541.2M335.8 534.3L337.5 536.3L339.3 538.2M339.3 538.2L349.9 537.6M355.3 539.7L361.8 543.1M361.8 543.1L362.4 542.2L363.0 541.2M362.1 506.8L360.1 511.1L356.3 514.0M335.4 507.6L338.4 514.1L341.8 520.3M317.9 532.0L327.1 530.9L335.8 534.3M336.3 544.5L339.3 538.2M365.3 550.9L365.1 547.9L361.8 543.1M232.4 558.0L226.3 556.7L220.2 557.7M232.4 558.0L236.9 569.1L243.6 579.1M215.8 581.9L217.8 585.7L220.9 588.6M220.9 588.6L231.5 581.9L243.6 579.1M250.3 602.3L247.9 601.7M247.8 601.9L247.9 601.7M256.3 576.1L250.2 577.1L244.7 579.8M247.9 601.7L247.7 590.6L244.7 579.8M215.0 602.8L220.4 603.4M222.1 605.0L220.4 603.4M220.9 588.6L218.6 595.9L220.4 603.4M243.6 579.1L244.2 579.5L244.7 579.8M314.9 493.8L311.4 479.9L309.1 465.7M286.7 483.2L291.6 476.8L294.1 469.3M309.1 465.7L301.7 467.9L294.1 469.3M237.0 485.2L238.2 477.7L242.3 471.3M216.0 485.3L215.1 480.8M218.2 457.8L226.9 460.1L237.7 457.0M237.7 457.0L239.5 464.3L242.3 471.3M270.7 480.3L266.9 473.6L264.7 466.3M242.3 471.3L254.0 471.1L264.7 466.3M174.2 104.4L160.6 102.8L147.7 98.3M174.2 104.4L174.4 104.2L174.6 104.0M174.6 104.0L173.3 92.2L170.4 80.6M147.7 98.3L147.0 88.6L146.0 78.9M146.0 78.9L157.3 76.6L168.7 78.6M170.4 80.6L169.4 79.7L168.7 78.6M144.9 100.5L146.4 99.5L147.7 98.3M138.8 130.3L140.6 131.8L142.5 133.4M142.5 133.4L156.8 125.3L172.5 120.4M172.5 120.4L171.3 112.2L174.2 104.4M184.9 101.1L193.8 101.6L201.1 106.5M184.9 101.1L179.4 101.2L174.6 104.0M172.5 120.4L173.4 121.8L174.1 123.2M201.4 127.0L203.7 116.7L201.1 106.5M184.9 101.1L187.8 87.0L194.8 74.5M194.8 74.5L193.1 72.8L191.2 71.2M191.2 71.2L181.5 77.5L170.4 80.6M144.4 75.7L144.9 77.5L146.0 78.9M170.1 67.0L170.4 69.2L168.7 78.6M191.2 71.2L188.9 67.0M145.0 140.6L149.6 149.5L158.2 154.7M145.0 140.6L133.9 150.2L125.8 162.4M158.2 154.7L145.3 163.9L133.0 173.9M125.8 162.4L126.4 168.1L126.1 173.7M126.1 173.7L129.5 173.9L133.0 173.9M173.6 151.9L170.0 155.8L164.9 157.2M142.5 133.4L144.6 136.7L145.0 140.6M164.9 157.2L161.4 156.4L158.2 154.7M118.0 150.4L123.5 155.4L125.8 162.4M125.7 174.1L125.9 173.9L126.1 173.7M164.9 157.2L165.0 157.8L165.0 158.3M133.0 173.9L140.1 180.8L149.4 184.1M165.0 158.3L154.0 169.3L149.4 184.1M139.1 202.4L143.5 193.6L151.9 188.6M149.4 184.1L150.7 186.3L151.9 188.6M391.2 534.0L389.6 531.3L383.6 524.4M383.6 524.4L383.3 521.7L384.2 519.1M384.2 519.1L399.8 514.3L415.9 511.7M415.9 511.7L417.1 522.1L416.8 523.0M363.0 541.2L371.1 530.1L383.6 524.4M379.2 511.1L382.7 514.5L384.2 519.1M417.0 510.6L413.1 503.6L411.3 495.8M417.0 510.6L416.4 511.2L415.9 511.7M417.0 510.6L426.1 508.8L435.2 511.2M435.6 527.1L438.9 515.0M438.9 515.0L436.6 513.5L435.2 511.2M412.8 491.7L422.8 480.4L436.7 474.6M436.7 474.6L440.3 480.4L445.9 484.4M435.2 511.2L438.0 496.8L445.9 484.4M410.8 321.9L413.0 331.2L410.9 340.5M435.8 341.7L431.0 343.1L427.2 346.3M410.9 340.5L411.9 341.6L413.2 342.0M427.2 346.3L420.5 343.2L413.2 342.0M410.9 340.5L401.0 346.7L389.4 347.4M395.0 369.4L389.3 363.4L386.6 355.6M395.0 369.4L402.3 367.2L409.8 368.1M413.2 342.0L414.7 355.5L409.8 368.1M389.4 347.4L388.0 351.5L386.6 355.6M393.4 387.5L391.8 378.2L395.0 369.4M364.3 370.5L367.5 367.5L369.5 363.6M386.6 355.6L378.3 360.0L369.5 363.6M434.6 437.9L436.9 452.5L433.9 466.9M434.6 437.9L442.9 436.3L450.9 438.8M450.9 438.8L452.6 445.9L454.8 452.9M454.8 452.9L443.4 458.3L434.3 467.2M434.3 467.2L434.1 467.0L433.9 466.9M428.9 433.3L432.1 435.1L434.6 437.9M414.6 461.1L423.7 465.7L433.9 466.9M429.5 417.6L430.9 416.5L432.2 415.4M457.6 429.8L454.0 434.1L450.9 438.8M466.9 457.8L475.2 456.2L480.8 451.7M466.9 457.8L461.1 454.7L454.8 452.9M436.7 474.6L434.6 471.2L434.3 467.2M466.9 457.8L463.1 470.7L462.5 484.2M445.9 484.4L454.1 483.3L462.5 484.2M285.4 173.0L284.8 163.3L279.2 155.5M285.4 173.0L285.6 177.1L283.6 180.6M283.6 180.6L274.6 185.7L264.3 185.6M272.1 153.1L275.7 154.2L279.2 155.5M272.1 153.1L262.6 163.7L259.4 177.6M259.4 177.6L261.7 181.7L264.3 185.6M306.7 168.4L295.4 167.5L285.4 173.0M282.0 154.1L280.5 154.6L279.2 155.5M315.0 192.4L304.8 191.9L295.0 195.2M295.0 195.2L290.7 186.8L283.6 180.6M270.6 151.6L271.2 152.6L272.1 153.1M299.0 127.2L293.2 122.3L285.7 121.1M274.3 127.5L279.7 123.7L285.7 121.1M288.6 216.5L284.5 220.5L281.5 225.4M288.6 216.5L288.4 211.1L288.2 205.8M288.2 205.8L275.8 199.3L261.8 200.4M281.5 225.4L271.1 224.0L260.7 223.8M261.8 200.4L259.6 211.2L256.2 221.7M256.2 221.7L258.7 222.1L260.7 223.8M312.4 225.2L301.1 219.2L288.6 216.5M289.1 250.7L281.6 239.1L281.5 225.4M295.0 195.2L291.1 200.2L288.2 205.8M260.7 197.0L261.5 198.6L261.8 200.4M260.7 197.0L263.1 191.5L264.3 185.6M270.3 252.9L269.8 236.9L260.7 223.8M253.8 222.6L254.9 222.0L256.2 221.7M208.8 177.1L213.4 172.7L217.7 167.9M208.8 177.1L211.4 188.1L214.8 199.0M214.8 199.0L221.2 196.5L228.1 196.7M217.7 167.9L227.7 169.5L237.7 168.2M228.1 196.7L230.4 195.0L232.2 192.7M232.2 192.7L237.0 181.1L237.8 168.5M237.7 168.2L237.8 168.3L237.8 168.5M195.4 172.2L202.7 172.9L208.8 177.1M195.4 172.2L193.6 162.9L192.9 153.4M208.6 151.7L215.0 158.8L217.7 167.9M240.0 216.1L232.7 207.2L228.1 196.7M214.3 199.4L221.5 213.2L220.2 228.7M214.3 199.4L214.5 199.2L214.8 199.0M241.9 147.5L240.6 158.0L237.7 168.2M260.7 197.0L246.2 196.4L232.2 192.7M259.4 177.6L248.3 173.8L237.8 168.5M191.1 211.3L198.1 218.8L200.3 228.8M191.1 211.3L181.8 224.9L172.5 236.4M200.3 228.8L193.0 236.7L187.3 245.7M187.3 245.7L183.4 244.4M190.4 249.6L190.2 249.1L187.3 245.7M218.3 234.6L209.3 231.5L200.3 228.8M156.0 219.0L155.1 218.9L154.1 219.1M156.0 219.0L163.4 228.6L168.2 234.0M220.9 127.1L220.0 118.0L223.5 109.4M241.7 109.1L239.0 107.3L236.4 105.3M236.4 105.3L230.5 109.2L223.5 109.4M201.1 106.5L205.7 106.3L209.6 103.7M223.5 109.4L215.8 108.5L209.6 103.7M194.8 74.5L205.0 72.2L215.4 73.6M209.6 103.7L209.6 88.1L215.4 73.6M285.7 121.1L285.4 112.6L281.5 104.9M263.5 102.5L266.0 101.1L267.5 98.8M281.5 104.9L275.0 100.9L267.5 98.8M313.2 109.8L305.6 99.8L298.4 95.7M281.5 104.9L287.3 98.4L293.7 94.4M310.5 317.3L322.8 318.5L334.5 322.4M317.2 344.8L323.7 343.6L329.1 339.8M334.5 322.4L330.8 330.8L329.1 339.8M340.4 301.6L338.2 309.2L340.1 317.0M334.5 322.4L337.8 320.3L340.1 317.0M319.8 371.8L319.5 371.7L319.3 371.5M343.7 369.8L342.6 359.7L342.5 349.6M342.5 349.6L337.3 342.7L329.1 339.8M369.5 363.6L364.4 352.0L356.7 342.0M342.5 349.6L350.3 347.0L356.7 342.0M239.8 551.0L237.1 539.0L240.4 527.1M239.8 551.0L250.4 554.1L261.1 551.5M261.1 551.5L262.5 544.1L263.5 536.7M263.5 536.7L259.5 531.8L257.8 525.8M240.4 527.1L249.1 526.8L257.8 525.8M232.4 558.0L237.0 555.4L239.8 551.0M239.0 525.7L239.7 526.4L240.4 527.1M267.2 557.1L265.0 553.4L261.1 551.5M285.4 533.0L274.0 532.0L263.5 536.7M268.0 512.0L262.9 518.9L257.8 525.8M215.6 456.4L215.5 455.5M269.3 362.3L272.8 377.3L269.0 392.1M295.6 376.8L294.5 379.1L294.0 381.6M269.0 392.1L275.4 388.5L282.7 388.9M294.0 381.6L287.8 384.4L282.7 388.9M246.7 374.8L246.3 381.2L247.9 387.4M269.0 392.1L266.8 393.7L265.3 395.9M265.3 395.9L256.9 390.9L247.9 387.4M222.5 383.7L232.2 389.5L243.5 389.5M247.9 387.4L245.8 388.6L243.5 389.5M215.4 389.3L216.2 390.4M221.4 397.7L223.3 400.4L230.7 412.0M243.5 389.5L238.5 401.6L230.7 412.0M220.1 418.9L223.0 417.7L230.8 415.2M230.8 415.2L230.7 413.6L230.7 412.0M294.1 469.3L289.8 462.6L285.8 455.7M264.7 466.3L264.2 457.8L268.2 450.4M285.8 455.7L276.4 454.8L268.2 450.4M168.8 203.3L167.2 198.1L164.9 193.2M168.8 203.3L180.2 205.0L191.1 208.6M164.9 193.2L170.7 186.7L173.8 178.7M191.1 208.6L193.1 206.5L195.2 204.6M195.2 204.6L193.8 191.6L187.7 180.0M187.7 180.0L180.7 179.4L173.8 178.7M156.0 219.0L163.5 212.0L168.8 203.3M151.9 188.6L158.2 191.5L164.9 193.2M191.1 211.3L191.0 209.9L191.1 208.6M165.0 158.3L171.9 167.4L173.8 178.7M214.3 199.4L205.2 203.5L195.2 204.6M195.4 172.2L191.7 176.2L187.7 180.0M453.0 515.0L458.1 501.1L465.8 486.5M465.8 486.5L470.4 487.4M438.9 515.0L445.7 515.5L451.5 516.5M462.5 484.2L464.1 485.4L465.8 486.5M413.3 370.0L422.3 367.6L429.3 361.6M413.3 370.0L415.9 378.7L418.1 387.5M418.1 387.5L426.9 386.6L435.8 387.1M435.8 387.1L435.6 379.5L437.3 372.2M437.3 372.2L434.4 366.0L429.3 361.6M427.2 346.3L429.3 353.8L429.3 361.6M409.8 368.1L411.7 368.8L413.3 370.0M406.7 394.4L413.2 392.3L418.1 387.5M439.2 391.0L437.5 389.1L435.8 387.1M457.2 361.2L448.7 369.4L437.3 372.2M368.5 313.7L364.2 321.5L357.0 326.7M368.5 313.7L375.6 319.3L384.0 322.5M384.0 322.5L383.4 329.5L381.3 336.3M381.3 336.3L370.8 336.5L360.6 334.1M357.0 326.7L359.2 330.2L360.6 334.1M367.8 294.7L365.5 304.3L368.5 313.7M340.1 317.0L348.6 321.7L357.0 326.7M392.9 312.9L387.3 316.6L384.0 322.5M389.4 347.4L386.3 341.2L381.3 336.3M356.7 342.0L359.4 338.4L360.6 334.1M219.7 67.0L219.6 68.1L215.6 73.5M215.6 73.5L226.7 81.1L237.4 89.4M251.3 67.0L251.4 67.2L251.8 79.4M237.4 89.4L245.3 85.4L251.8 79.4M215.4 73.6L215.5 73.5L215.6 73.5M236.4 105.3L236.3 97.3L237.4 89.4M267.5 98.8L267.6 90.9L264.6 83.6M264.6 83.6L257.9 82.3L251.8 79.4M287.4 67.0L287.1 67.5L286.0 71.6M286.0 71.6L280.8 71.7L276.0 73.9M276.0 73.9L270.1 67.0M289.5 75.5L286.0 71.6M264.6 83.6L271.6 80.3L276.0 73.9M309.1 465.7L313.1 463.4L315.5 459.6M285.8 455.7L293.3 447.4L301.8 440.3M301.8 440.3L306.8 451.2L315.5 459.6M338.5 477.3L333.0 466.4L323.2 459.2M348.3 441.1L340.5 446.5L331.1 447.2M331.1 447.2L327.9 453.7L323.2 459.2M323.2 459.2L319.4 460.0L315.5 459.6M292.0 418.7L294.7 416.4L296.1 413.1M292.0 418.7L294.0 424.4L296.7 429.8M296.1 413.1L301.1 407.1L308.1 403.8M296.7 429.8L299.4 432.3L301.7 435.1M301.7 435.1L310.3 431.0L319.6 429.4M319.6 429.4L325.9 423.2L327.7 414.5M327.7 414.5L322.5 407.6L314.9 403.5M314.9 403.5L311.5 403.0L308.1 403.8M294.0 381.6L303.6 391.0L308.1 403.8M282.7 388.9L290.3 400.5L296.1 413.1M268.2 450.4L267.7 449.4L267.2 448.4M267.2 448.4L281.0 437.6L296.7 429.8M301.8 440.3L302.4 437.6L301.7 435.1M331.1 447.2L325.1 438.5L319.6 429.4M329.2 414.4L328.4 414.4L327.7 414.5M318.2 395.8L316.4 399.6L314.9 403.5M275.0 416.4L270.0 410.2L265.6 403.5M275.0 416.4L271.4 430.9L261.4 442.1M265.6 403.5L250.5 409.4L239.1 421.0M239.1 421.0L241.8 428.0L244.3 435.0M244.3 435.0L247.0 436.9L248.4 439.8M248.4 439.8L254.9 440.8L261.4 442.1M265.3 395.9L266.5 399.7L265.6 403.5M292.0 418.7L283.4 418.5L275.0 416.4M267.2 448.4L265.1 444.6L261.4 442.1M230.8 415.2L235.2 417.7L239.1 421.0M227.4 438.5L228.9 437.9L244.3 435.0M237.7 457.0L242.1 447.7L248.4 439.8M595.2 677.8L597.0 678.0M595.2 677.8L594.7 689.2L591.0 699.9M591.0 699.9L597.0 699.1M595.2 677.8L595.0 677.5L594.7 677.4M594.7 677.4L594.0 668.9L597.0 660.9M597.0 660.9L597.0 660.9M597.0 770.1L595.4 770.6M589.7 787.0L589.3 785.8M589.3 785.8L592.1 778.3L595.1 770.8M595.4 770.6L595.3 770.7L595.1 770.8M585.6 787.0L589.3 785.8M572.2 787.0L570.5 786.2L568.7 784.5M595.1 770.8L582.6 774.3L569.6 772.5M569.6 772.5L569.6 778.6L568.7 784.5M581.3 752.5L588.0 761.8L595.4 770.6M581.3 752.5L576.0 751.6L571.0 753.6M571.0 753.6L568.1 759.6L566.9 766.2M569.6 772.5L568.7 769.2L566.9 766.2M597.0 660.9L592.7 658.1L589.3 654.3M589.3 654.3L589.6 651.2M578.5 677.8L576.4 676.2L575.1 674.0M578.5 677.8L586.6 677.7L594.7 677.4M575.1 674.0L575.2 669.5L574.9 668.2M589.3 654.3L581.8 659.7L578.9 661.8M597.0 716.7L591.0 720.3M591.0 720.3L597.0 728.4M581.3 752.5L585.4 746.9L591.5 743.6M597.0 746.6L591.5 743.6M578.5 677.8L578.5 684.9L575.0 691.2M591.0 699.9L589.0 701.0L587.6 702.7M587.6 702.7L582.9 695.2L575.0 691.2M543.2 709.6L539.5 709.5L536.2 711.4M543.2 709.6L549.2 701.3L558.0 695.9M532.2 708.4L530.3 700.6L530.5 699.0M532.2 708.4L534.3 709.8L536.2 711.4M550.8 686.2L552.5 691.2L558.0 695.9M519.5 711.5L524.1 709.4L532.2 708.4M539.5 730.1L536.4 721.0L536.2 711.4M539.5 730.1L537.9 734.3L534.4 737.1M517.9 726.5L527.0 730.0L534.4 737.1M575.1 674.0L569.8 674.5M575.0 691.2L568.7 694.5L562.4 697.7M562.4 697.7L560.0 697.2L558.0 695.9M537.1 763.7L538.5 759.7L540.5 756.0M537.1 763.7L525.9 764.7L515.0 767.6M540.3 752.9L540.7 754.5L540.5 756.0M540.3 752.9L538.2 746.8L533.4 742.6M533.4 742.6L523.9 745.1L514.8 748.9M514.8 748.9L516.8 758.2L515.0 767.6M514.6 772.6L513.3 770.3M512.6 770.6L513.3 770.3M537.1 763.7L538.8 769.6L540.1 775.6M527.8 786.8L530.6 786.1L535.9 786.3M515.0 767.6L514.2 769.0L513.3 770.3M535.9 786.3L537.2 780.7L540.1 775.6M540.5 756.0L549.4 762.5L559.9 766.3M559.9 766.3L555.5 772.1L548.9 774.9M540.1 775.6L544.5 774.7L548.9 774.9M508.4 743.7L510.9 746.5M510.9 746.5L506.7 748.9M534.4 737.1L534.2 739.9L533.4 742.6M514.8 748.9L513.2 747.2L510.9 746.5M536.5 787.0L536.3 786.7M536.3 786.7L548.7 786.8L558.3 787.0M535.9 786.3L536.1 786.5L536.3 786.7M568.7 784.5L565.5 785.7L563.6 787.0M548.9 774.9L556.4 779.6L561.0 787.0M566.9 766.2L563.4 766.3L559.9 766.3M566.2 711.1L576.5 710.1L586.6 712.2M566.2 711.1L566.0 711.9L565.5 712.5M565.5 712.5L571.5 720.8L573.3 730.8M573.3 730.8L580.6 730.3L587.2 727.2M587.2 727.2L589.5 724.0L591.0 720.3M591.0 720.3L588.5 716.4L586.6 712.2M587.6 702.7L587.4 707.5L586.6 712.2M562.4 697.7L563.4 704.7L566.2 711.1M543.2 709.6L550.8 713.8L558.9 717.1M558.9 717.1L562.7 715.6L565.5 712.5M591.0 720.3L591.0 720.3L591.0 720.3M591.5 743.6L589.3 735.4L587.2 727.2M549.3 730.0L552.7 728.5L555.8 726.4M549.3 730.0L554.6 738.4L560.4 746.4M555.8 726.4L563.4 729.1L570.2 733.6M570.2 733.6L568.7 740.6L566.9 747.6M560.4 746.4L563.5 747.5L566.9 747.6M539.5 730.1L544.4 730.2L549.3 730.0M558.9 717.1L557.0 721.6L555.8 726.4M540.3 752.9L550.3 749.6L560.4 746.4M573.3 730.8L571.4 731.8L570.2 733.6M571.0 753.6L569.4 750.2L566.9 747.6"/>
</g>
<g fill="none" stroke="#000" stroke-width="2.5" stroke-linejoin="round" stroke-linecap="round">
<polyline points="121.3,67 125.6,72.8 127,80 124.2,84.3 117,95.9 112.6,107.5 108.3,119 106.6,120 104.4,128.7 105.5,137.3 111,139.5 112,143.8 108.8,147.1 104.4,150.3 101.2,154.7 99,157.9 93.6,159 90.3,161.2 92.5,166.6 89.3,172 85,178.5 79.5,185 80.6,193.7 75.2,202.4 67.6,205.6 62.2,207.8 66.5,208.9 77.3,207.8 88.2,208.9 99,212.1 109.9,213.2 112,217.6 103.4,219.7 95.8,221.9 90.3,226.2 94.7,230.6 103.4,233.8 112,237.1 116.4,241.4 120.7,239.2 125,234.9 129.4,232.7 131.5,237.1 127.2,241.4 122.9,245.7 119.6,250.1 118.5,256.6 125,252.2 130.5,247.9 134.8,244.6 138,239.2 138,228.4 139.1,219.7 143.5,218.6 147.8,221.9 151,226.2 155.4,219.7 159.7,224 163,230.6 168.4,234.9 172.7,237.1 177.1,239.2 181.4,243.6 185.7,247.9 190,250.1 194.4,245.7 200.9,241.4 207.4,237.1 210,234.9"/>
<polyline points="61,224 66,223 68.5,226 66,230 61,229.5 60,226.5 61,224"/>
<polyline points="112,143.8 118.5,146 125,142.8 133.7,143.8 140.2,147.1 143.5,152.5 145.6,160.1 148.9,167.7 150,176.4 151,185 157.5,188.3 163,191.5 166.2,195.9 170.6,203.5 179.2,202.4 190,199.1 200.9,198 210,199.1"/>
<polyline points="144.4,88.7 151.6,87.2 157.4,91.6 160,92.3 164.3,93 168.7,91.6 173,93.7 178.8,90.8 182.4,94.5 187.5,97.3 193.2,98.8 196.1,104.6 199,108.9 203.4,110.3 206.2,116.1 207.7,120.5 212,123.4 215.6,126.2"/>
<polyline points="215.6,126.2 209.1,123.4 203.4,121.2 196.1,119 190.3,116.8 186,118.3 185.3,123.4 189,129 191.8,135 191,139 186,143.6 179,147 171.6,145 167,139 160,133 148.7,132.5 140,135 135.7,130 136.8,121.2 140,110.4 145.5,99.5 144.4,88.7"/>
<polyline points="215.6,126.2 214.9,116.8 219.2,115.4 223.6,117.6 227.9,118.3 229.4,115.4 227.2,111.8 223.6,107.5 221.4,101.7 222.1,97.3 227.9,98.8 235.1,100.2 242.4,103.1 248.2,106.7 253.9,108.9 258.3,111.8"/>
<polyline points="258.3,111.8 256.8,116 252.5,121.9 248.2,126.2 246.7,133.5 245.3,140.7 240.9,146.5 235.1,150.8 232.3,156.6 234.8,164.5 237,175.4 242.4,184 247.8,188.4 248.9,192.7 246.7,199.2"/>
<polyline points="235.8,67 233.6,75.7 234.7,82.2 243.4,84.3 250.9,86.5 252,90.8 260.7,93 258.5,97.3 256.4,101.7 257.4,110.4"/>
<polyline points="258.5,97.3 260.7,84.3 262.9,80 265,73.5 267.2,71.3 278,70.3 288.9,70.3 291,73.5 288.9,80 287.8,86.5 291,93 297.5,95.2 304,97.3 310.6,99.5 319.2,100.6 323.6,106 327.9,112.5 334.4,119 340.9,123.4 345.2,127.7 351.7,132"/>
<polyline points="291,68 296,67.5 298,72 294,76 290,73"/>
<polyline points="301,67.5 303.5,70 302,76 300,72"/>
<polyline points="330,138.5 325.7,142.9 327.9,149.4 334.4,153.7 336.6,160.2 336.6,171 340.8,177.6 346.3,179.7 347.3,185.1 343,188.4 336.5,187.3 330,186.2"/>
<polyline points="330,138.5 338.7,137.5 347.3,138.5 353.8,142.9 356,153.7 355,164.6 356,173.2 362.5,177.6"/>
<polyline points="358.2,139.6 364.7,139.6 371.2,145 372.3,152.6 371.2,153.7 369,164.6 368,171 362.5,177.6 353.8,185.1 343,188.4"/>
<polyline points="362.5,177.6 365.8,184 369,190.6 375.5,192.7 378.8,197.1 377.7,205.7 379.9,212.2 382,217"/>
<polyline points="351.7,132 358.2,139.6 364.7,139.6 371.2,145 372.3,152.6 376.6,158 382,168.9 387.4,179.7 392.9,192.7 398.3,203.6 404.8,217"/>
<polyline points="249.9,217 250.9,212.2 254.2,203.6 260.7,194.9 269.4,189.5 282.4,186.2 297.5,185.1 312.7,185.1 325.7,185.1 330,186.2"/>
<polyline points="269.4,189.5 267.2,192.7 271.5,199.2 275.9,203.6 282.4,205.7 286.7,212.2 288.9,217"/>
<polyline points="223.8,199.2 232.5,199.2 243.4,197.1 248.8,199.2"/>
<polyline points="223.8,199.2 222.8,207.9 226,217"/>
<polyline points="200,197 208.7,203.6 210.8,210 207.6,217"/>
<polyline points="180,241.2 188.7,239 197.3,241.2 208.2,239 216.9,242.3 221.2,247.7 219,254.2 221.2,262.9 223.4,271.5 225.5,280.2 226.6,291 225.5,295.4 223.4,301.9 224.4,308.4 229.9,312.7 234.2,321.4 238.5,330 242.9,338.7 245,350"/>
<polyline points="238.5,271.5 245,262.9 253.7,260.7 258,256.4 264.5,254.2 268.9,258.5 266.7,265 273.2,265 277.5,267.2 281.9,271.5 286.2,273.7 288.4,265 290.6,258.5 297.1,258.5 301.4,262.9"/>
<polyline points="238.5,271.5 242.9,275.9 247.2,282.4 255.9,282.4 262.4,280.2 271,278 275.4,271.5 281.9,271.5"/>
<polyline points="301.4,262.9 305.7,258.5 312.2,260.7 321,265 330,269.4"/>
<polyline points="238.5,334.4 251.5,336.6 262.4,334.4 271,332.2 281.9,334.4 288.4,338.7 294.9,345.2 299.2,350"/>
<polyline points="288.4,338.7 299.2,330 310,323.6 316.6,314.9 320.9,308.4 323.1,301.9 330,295.4"/>
<polyline points="207.6,217 207.1,208.7 212.5,213 210.3,219.5 214.7,223.8 222.3,221.7 224.4,215.2 227.7,206.5 226,217"/>
<polyline points="249.9,217 245,222 238.5,226 232,230 229.9,236 234.2,241.2"/>
<polyline points="288.9,217 299.2,217.3 301.4,223.8 305.7,232.5 303.6,243.4 305.7,252 305.7,258.5"/>
<polyline points="195,243 205,240 215,244 219,250 218,258 214,264 205,262 198,256 195,243"/>
<polyline points="206,273 214,271 223,274 218,280 208,282 206,273"/>
<polyline points="210,299 215,297 218,302 213,306 210,303 210,299"/>
<polyline points="223,294 232,293 245,296 240,301 228,302 223,294"/>
<polyline points="228,305 236,304 240,309 234,312 228,305"/>
<polyline points="180,343 193,334.4 203.8,328 212.5,323.6 219,325.7 223.4,330"/>
<polyline points="404.8,217 406.7,217.3 413.2,228.2 421.9,239 430.6,249.9 434.9,256.4 441.4,267.2 447.9,280.2 454.4,288.9 458.7,297.5 463.1,306.2 467.4,321.4 468.5,338.7 470,350"/>
<polyline points="380.7,200 378.5,208.7 382.9,215.2 384,226 387.2,230.3 391.5,239 395.9,242.3 402.4,243.4 406.7,247.7 408.9,254.2 406.7,260.7 404.5,265 411,267.2 415.4,269.4 419.7,262.9 424,267.2 426.2,271.5 421.9,275.9 419.7,282.4 417.6,291 419.7,299.7 420.8,308.4 420.8,317"/>
<polyline points="330,269.4 333,276 333,298 335,307 333,306"/>
<polyline points="335,307 339.5,301.9 348.2,299.7 354.7,304 363.4,301.9 372,304 374.2,310.6 382.9,312.7 391.5,314.9 402.4,318.1 411,319.2 419.7,317 432.7,314.9 443.6,314.9 452.2,312.7 458.7,308.4 463.1,306.2"/>
<polyline points="198,330 203,334 209,334 210,341 207,345 202.5,349.5 198,347 196,343 192,341 188,347 185,354 187,360 193,362.5 198,365 203,371 205,380 207,388.5 209,393 213,392 216.6,382 215.5,373.4 211,370 206,372"/>
<polyline points="215.5,371.2 217.7,382 217.7,390.7 221,397.2 223.1,401.5 221,405.9 222,414.5 219.9,418.9 222,423.2 226.4,425.4 227.4,431.9 232.9,436.2 222,440.6 219.9,451.4 215.5,455.7 222,460 226.4,464.4 222,468.7 217.7,473 215.5,480"/>
<polyline points="198,330 194,326 200,322 208,322 212.5,323.6"/>
<polyline points="232.9,436.2 243.7,434 252.4,429.7 252.4,423.2 256.7,421 263.2,421 267.6,425.4 276.2,425.4 284.9,423.2 291.4,421 293.6,427.5 295.7,431.9 300,434 306.6,431.9 313.1,427.5 320,425.4"/>
<polyline points="265.4,340.8 271.9,349.5 274,358.2 276.2,369 280.6,373.4 282.7,382 284.9,390.7 287,397.2 291.4,401.5 293.6,408 295.7,414.5 302.2,416.7 308.7,414.5 313.1,416.7 320,418.9"/>
<polyline points="282.7,338.7 291.4,343 295.7,351.7 291.4,360.3 287,362 283,365 285,372 290,378 295,385 300,383 298,375 297,365 295.7,351.7"/>
<polyline points="222,440.6 226.4,442.7 232.9,447 235,455.7 230.7,457.9 222,460"/>
<polyline points="398,319.2 391.5,325.7 385,332.2 381.5,338.7 375,343 366.4,340.8 359.9,345.2 353.4,349.5 349,353.8 342.5,356 338.2,362.5 333.8,369 331.7,371.2 338.2,375.5 337.1,386.4 336,395 338.2,401.5 342.5,403.7 349,405.9 351.2,410.2 349,416.7 346.9,423.2 340.3,427.5 338.2,434 340.3,440.6 342.5,447 353.4,451.4 362,457.9 364.2,464.4 364.2,470.9 370.7,473 381.5,473 390,471"/>
<polyline points="320,418.9 314.3,416.7 310,410.2"/>
<polyline points="320,425.4 320.8,429.7 331.7,431.9 338.2,434"/>
<polyline points="338.2,434 331.7,442.7 325.2,449.2 318.7,457.9 316.5,466.6 316.5,480"/>
<polyline points="383.7,401.5 390.2,397.2 394.5,401.5 396.7,405.9 401,408 405.4,412.4 411.9,410.2 418.4,411.3 424.9,414.5 422.7,418.9 416.2,421 411.9,423.2 409.7,427.5 411.9,434 411.9,440.6 409.7,447 401,447 396.7,442.7 394.5,436.2 396.7,429.7 394.5,423.2 390.2,418.9 385.9,414.5 383.7,408 383.7,401.5"/>
<polyline points="394.5,436.2 388,440.6 383.7,442.7 385.9,451.4 381.5,455.7 383.7,460 390.2,464.4 396.7,468.7 407.6,470.9 418.4,473 427.1,470.9 433.6,466.6 442.2,462.2 450.9,461.2 460,464.4"/>
<polyline points="470,350 473.6,347.3 472.5,358.2 471.4,373.4 469.3,386.4 467.1,401.5 470.3,416.7 473.6,420 470.3,423.2 469.3,426.5 473.6,428.6 479,425.4 483.4,421 485.5,423.2 485.5,431.9 482.3,442.7 480.1,453.6 479,464.4 476.9,473 475.8,480"/>
<polyline points="460,464.4 461.7,466.6 468.2,464.4 474.7,466.6 477.9,467.7"/>
<polyline points="482,409.5 485,413 482,416.5 479,413 482,409.5"/>
<polyline points="215.5,480 215.3,481.7 225,481.7 233.7,481.7"/>
<polyline points="215.3,481.7 214.2,488.2 212,496.9 209.9,505.5 206.6,512 203.4,518.5 205.5,525 209.9,531.5 213.1,535.9 209.9,542.4 206.6,546.7 204.4,551 206.6,555.4 208.8,561.9 206.6,568.4 201.2,572.7 197.9,577 199,583.6 204.4,587.9 209.9,592.2 214.2,598.7 216.4,605.2 220.3,613.4 229,617.7 242,609 246.4,600 250,605 255,604.7 268,596 276.7,587.4 285.4,578.7 295,575 302.7,574.4 307,583 315.7,583 320,578.7 333,574.4"/>
<polyline points="188,529 192,530 192,537 188,538 188,529"/>
<polyline points="182,570 188,569 190.5,574 186,576 182,573 182,570"/>
<polyline points="201,546 206,544.5 210,549 207,553 202,552 201,546"/>
<polyline points="208.8,515 218.5,509.9 222.9,512 229.4,509.9 235.9,507.7 238,501.2 242.4,494.7 248.9,492.5 253.2,496.9 257.5,500.1 261.9,496.9 266.2,494.7 268.4,503.4 272.7,507.7 281.4,509.9 290.1,507.7 298.7,505.5 310,506.6"/>
<polyline points="232.6,522.9 240.2,517.4 246.7,518.5 255.4,512 264,514.2 266.2,525 261.9,531.5 255.4,538 246.7,540.2 238,538 235.9,535.9 242.4,531.5 238,527 232.6,522.9"/>
<polyline points="246.4,600 244.5,588 242,598"/>
<polyline points="225,605.2 233.7,603.1 242.4,600.9"/>
<polyline points="321.7,460 319.5,468.7 315.2,477.3 315.2,483.8 319.5,488.2 318.4,496.9 315.2,505.5 313,509.9 308.7,505.5 302.2,504.4 298.7,505.5"/>
<polyline points="313,509.9 315.2,516.4 319.5,522.9 323.8,529.4 328.2,535.9 332.5,542.4"/>
<polyline points="310,568.4 306.5,561.9 300,564"/>
<polyline points="300,553.2 306.5,548.9 313,546.7 317.3,551 323.8,548.9 330.3,544.5 336.9,546.7 343.4,542.4 349.9,538 354.2,534.8 356.4,540.2 354.2,546.7 358.5,548.9 365,551 371.5,548.9 378,546.7 382.4,542.4 388.9,535.9 386.7,531.5 393.2,529.4 399.7,527.2 404.1,525 408.4,522.9"/>
<polyline points="313,551 315.2,559.7 313,566.2 317.3,570.6 321.7,574.9 328.2,579.2 330.3,585.7 334.7,587.9"/>
<polyline points="300,553.2 302,560 300,564"/>
<polyline points="347.7,551 352,553.2 354.2,559.7 358.5,566.2 356.4,572.7 349.9,568.4 343.4,564 339,555.4 343.4,551 347.7,551"/>
<polyline points="404.1,514.2 406.2,520.7 408.4,531.5 410.6,540.2 412.7,551 410.6,561.9 406.2,568.4 404.1,561.9 401.9,553.2 399.7,546.7 395.4,544.5 393.2,551 395.4,557.5 399.7,561.9"/>
<polyline points="406.2,527.2 412.7,531.5 414.9,542.4 417.1,553.2 414.9,561.9 410.6,570.6 408.4,572.7 406,565"/>
<polyline points="404.1,514.2 410,516 417.1,520.7 421.4,522.9 425.7,527.2 430.1,525 438.7,522.9 443.1,518.5 450,516.4"/>
<polyline points="425.7,520.7 432.2,514.2 440.9,509.9 450,505.5"/>
<polyline points="434.4,473 440.9,481.7 447.4,488.2 450,490.3"/>
<polyline points="475.8,480 473.2,480.1 471.2,485.2 469.2,490.2 468.2,496.2 464.2,502.2 460.2,508 454.2,514 448.2,520 440.1,526 432.1,528.3 424.1,527 420.1,523"/>
<polyline points="440.1,466.1 437.1,474.1 438.1,480.1 444.2,484.2 452.2,488.2 456.2,494.2 460.2,498.2 464.2,496.2 468.2,490.2 470.2,484.2 471.2,480.1"/>
<polyline points="420.1,520.3 430.1,516.3 440.1,510.2 450.2,506.2 458.2,504.2 460.2,498.2"/>
<polyline points="190.1,726.2 193,719 198.8,713.2 206,708.9 217.6,704.6 227.7,701.7 240.7,698.8 249.4,698.8 256.6,703.1 259.5,713.2 256.6,720.5 247.9,726.2 237.8,730.6 227.7,733.5 216.1,734.9 204.6,734.9 200.2,737.8 197.3,734.9 191.6,732 190.1,726.2"/>
<polyline points="480.6,569.8 484.4,572 484.4,579.5 483.6,587.1 479.1,593.1 476.1,597.6 476.8,603.6 479.1,608.1 477.6,614.1 473.1,617.1 470.1,624.7 467.8,632.2 462.6,636.7 458,633.7 458.8,624.7 459.5,615.6 461.1,611.1 464.1,608.1 467.1,605.1 467.1,597.6 467.8,588.6 467.1,584.1 469.3,576.5 473.1,575 477.6,570.5 480.6,569.8"/>
<polyline points="504.7,660.8 509.2,659.2 513.7,662.3 515.2,668.3 513.7,674.3 509.2,676.5 504.7,674.3 502.4,668.3 503.2,663.8 504.7,660.8"/>
<polyline points="584,261 589,258.5 594,260 594.5,265 590,267.5 585,266.5 583,263.5 584,261"/>
<polyline points="597,647.4 590.2,651.1 582.8,654.7 579.1,660.3 575.4,665.8 571.8,673.2 568.1,678.7 560.7,680.5 555.2,682.4 549.7,686.1 544.1,689.8 546,693.4 540.4,695.3 534.9,699 529.4,695.3 523.9,693.4 520.2,699 518.3,706.3 520.2,713.7 522,721.1 523.9,728.4 529.4,732.1 534.9,737.7 540.4,743.2 547.8,748.7 553.3,752.4 555.2,757.9 551.5,763.5 549.7,769 555.2,774.5 558.9,780 560.7,787"/>
<polyline points="534.9,699 542.3,700.8 551.5,700.8 560.7,699 568.1,700.8 575.4,704.5 582.8,702.6 586.5,708.2 584.7,713.7 581,719.2 575.4,724.8 571.8,730.3 573.6,737.7 577.3,745 581,750.6 586.5,756.1 592,757.9 597,759.8"/>
<polyline points="487,713.7 494.4,710 498.1,717.4 501.7,724.8 507.3,730.3 511,735.8 512.8,741.3 509.1,746.9 505.4,754.2 507.3,761.6 511,769 516.5,776.4 523.9,781.9 527.5,787"/>
<polyline points="494.4,710 496.2,713.7 505.4,713.7 512.8,715.5 520.2,721.1"/>
<polyline points="512.8,741.3 518,745 522,752 528,758 533,764 540,770 545,778 548,787"/>
<polyline points="555.2,757.9 562,762 570,768 578,775 585,781 590,787"/>
<polyline points="573.6,737.7 580,733 588,728 597,725"/>
<polyline points="516,760 521,765 524,772 520,776 516,770 516,760"/>
<polyline points="184,594 192,590 203,593 207,601 203,610 193,613 185,608 183,600 184,594"/>
<polyline points="233,607 240,603 248,607 249,615 243,621 235,619 233,612 233,607"/>
<polyline points="272,594 281,590 292,593 293,600 285,604 275,603 272,594"/>
<polyline points="299,577 306,574 314,577 315,584 308,588 300,586 299,577"/>
<polyline points="170,573 176,571 182,575 180,581 173,582 170,577 170,573"/>
<polyline points="176,551 182,549 186,553 183,559 177,559 176,551"/>
</g>
<g style="font-size:12.5px"><text x="0" y="0" text-anchor="middle" transform="translate(240,253) rotate(-52)">0.0301</text><text x="0" y="0" text-anchor="middle" transform="translate(305,406) rotate(-18)">0.0301</text><text x="0" y="0" text-anchor="middle" transform="translate(400,527) rotate(88)">0.0301</text></g>
<g fill="none" stroke="#000" stroke-width="1.4" stroke-dasharray="4,2.5"><polyline points="230,250 237,244 250,247 265,246 277,246 290,250 298,253 308,259 316,264 324,270 329,277 333,289 335,305 335,320 331,332 326,342 321,352 318,362 316,374 316,386 313,396 300,402 288,402 283,396"/><polyline points="384,402 396,404 406,410 417,411 426,420 445,431 436,441 418,447 401,448 394,443 389,435 388,420 384,402"/><polyline points="467,501 462,515 458,527 450,537 441,548 432,560 424,570 415,575 408,577"/><polyline points="410,470 425,478 438,487 452,497 467,501"/><polyline points="234,522 240,512 252,509 262,510 267,520 264,535 256,543 244,545 236,538 234,522"/><polyline points="300,556 310,546 325,543 340,543 346,552 344,566 330,572 312,573 302,570 300,556"/><polyline points="272,437 280,434 288,437 290,448 284,453 275,452 272,444 272,437"/><polyline points="158,101 162,97 167,100 166,108 162,115 158,108 158,101"/><polyline points="476,458 486,455 494,460 492,475 486,486 478,488 476,475 476,458"/><polyline points="221,697 228,694 236,695 238,699 231,702 223,701 221,697"/><polyline points="556,672 567,666 580,662 592,668 597,672"/><polyline points="560,700 570,693 585,690 590,700 585,712 575,718 565,715 560,700"/><polyline points="583,738 585,745 587,752"/><polyline points="590,738 591,746 592,752"/></g>
<g stroke="#000" stroke-width="1.1" fill="#000">
<path d="M12.7 70.3L11.9 66.4" fill="none"/>
<path d="M11.1 62.3L13.6 66.0L10.2 66.7Z" stroke="none"/>
<path d="M39.4 70.5L38.5 66.3" fill="none"/>
<path d="M37.7 62.1L40.3 65.9L36.8 66.6Z" stroke="none"/>
<path d="M66.5 69.4L65.5 67.1" fill="none"/>
<path d="M63.9 63.2L67.1 66.4L63.9 67.7Z" stroke="none"/>
<path d="M93.6 68.6L92.6 67.3" fill="none"/>
<path d="M90.1 64.0L94.0 66.3L91.2 68.4Z" stroke="none"/>
<path d="M119.7 68.3L119.3 67.7" fill="none"/>
<path d="M117.3 64.3L120.8 66.8L117.8 68.6Z" stroke="none"/>
<path d="M145.6 68.3L145.5 67.7" fill="none"/>
<path d="M144.7 64.3L147.2 67.3L143.8 68.1Z" stroke="none"/>
<path d="M172.3 68.2L172.1 67.7" fill="none"/>
<path d="M171.3 64.4L173.8 67.2L170.4 68.1Z" stroke="none"/>
<path d="M200.1 67.5L199.6 67.1" fill="none"/>
<path d="M196.8 65.1L200.6 65.7L198.6 68.5Z" stroke="none"/>
<path d="M226.8 65.2L226.3 65.6" fill="none"/>
<path d="M223.4 67.4L225.4 64.1L227.2 67.0Z" stroke="none"/>
<path d="M253.3 65.0L252.8 65.4" fill="none"/>
<path d="M250.2 67.6L251.7 64.1L253.9 66.7Z" stroke="none"/>
<path d="M280.4 66.1L279.8 66.2" fill="none"/>
<path d="M276.4 66.5L279.6 64.4L280.0 67.9Z" stroke="none"/>
<path d="M306.0 68.1L305.7 67.5" fill="none"/>
<path d="M304.1 64.5L307.3 66.7L304.2 68.4Z" stroke="none"/>
<path d="M332.4 68.2L332.2 67.6" fill="none"/>
<path d="M331.0 64.4L333.8 67.0L330.6 68.2Z" stroke="none"/>
<path d="M359.1 68.2L358.9 67.6" fill="none"/>
<path d="M357.6 64.4L360.5 67.0L357.2 68.2Z" stroke="none"/>
<path d="M385.8 68.1L385.5 67.6" fill="none"/>
<path d="M384.2 64.5L387.2 66.9L383.9 68.3Z" stroke="none"/>
<path d="M413.0 68.3L412.6 67.7" fill="none"/>
<path d="M410.3 64.3L414.0 66.8L411.1 68.7Z" stroke="none"/>
<path d="M440.4 68.8L438.9 67.0" fill="none"/>
<path d="M436.2 63.8L440.2 65.9L437.5 68.1Z" stroke="none"/>
<path d="M467.2 70.2L464.8 66.1" fill="none"/>
<path d="M462.7 62.4L466.3 65.2L463.3 67.0Z" stroke="none"/>
<path d="M494.2 71.7L490.8 64.7" fill="none"/>
<path d="M489.0 60.9L492.4 63.9L489.2 65.4Z" stroke="none"/>
<path d="M521.1 72.0L517.3 64.4" fill="none"/>
<path d="M515.4 60.6L518.8 63.6L515.7 65.1Z" stroke="none"/>
<path d="M548.0 72.3L543.7 64.0" fill="none"/>
<path d="M541.8 60.3L545.3 63.2L542.2 64.8Z" stroke="none"/>
<path d="M574.6 72.3L570.4 64.0" fill="none"/>
<path d="M568.5 60.3L571.9 63.2L568.8 64.8Z" stroke="none"/>
<path d="M601.3 72.4L597.0 63.9" fill="none"/>
<path d="M595.1 60.2L598.5 63.1L595.4 64.7Z" stroke="none"/>
<path d="M12.7 97.2L11.9 92.9" fill="none"/>
<path d="M11.1 88.7L13.6 92.5L10.2 93.2Z" stroke="none"/>
<path d="M39.3 97.4L38.5 92.7" fill="none"/>
<path d="M37.8 88.5L40.2 92.4L36.8 93.0Z" stroke="none"/>
<path d="M66.6 96.1L65.5 93.7" fill="none"/>
<path d="M63.8 89.8L67.1 93.0L63.9 94.4Z" stroke="none"/>
<path d="M93.8 95.2L92.6 93.9" fill="none"/>
<path d="M89.9 90.7L94.0 92.7L91.3 95.0Z" stroke="none"/>
<path d="M119.6 94.9L119.3 94.3" fill="none"/>
<path d="M117.4 91.0L120.8 93.5L117.8 95.2Z" stroke="none"/>
<path d="M145.2 94.9L145.2 94.3" fill="none"/>
<path d="M145.1 91.0L146.9 94.3L143.4 94.4Z" stroke="none"/>
<path d="M171.9 94.9L171.9 94.3" fill="none"/>
<path d="M171.7 91.0L173.6 94.2L170.1 94.5Z" stroke="none"/>
<path d="M200.2 93.9L199.7 93.6" fill="none"/>
<path d="M196.7 92.0L200.5 92.1L198.9 95.2Z" stroke="none"/>
<path d="M226.5 91.5L226.1 91.9" fill="none"/>
<path d="M223.7 94.4L224.8 90.7L227.3 93.2Z" stroke="none"/>
<path d="M253.0 91.4L252.7 91.9" fill="none"/>
<path d="M250.5 94.5L251.3 90.8L254.0 93.0Z" stroke="none"/>
<path d="M280.1 91.8L279.6 92.2" fill="none"/>
<path d="M276.7 94.1L278.6 90.7L280.5 93.6Z" stroke="none"/>
<path d="M305.9 94.8L305.6 94.2" fill="none"/>
<path d="M304.2 91.1L307.2 93.5L304.0 95.0Z" stroke="none"/>
<path d="M332.4 94.8L332.2 94.3" fill="none"/>
<path d="M331.0 91.1L333.8 93.7L330.5 94.9Z" stroke="none"/>
<path d="M359.0 94.8L358.8 94.3" fill="none"/>
<path d="M357.7 91.1L360.5 93.7L357.2 94.8Z" stroke="none"/>
<path d="M385.2 94.9L385.1 94.3" fill="none"/>
<path d="M384.8 91.0L386.9 94.2L383.4 94.5Z" stroke="none"/>
<path d="M412.3 94.9L412.1 94.3" fill="none"/>
<path d="M411.0 91.0L413.7 93.7L410.4 94.8Z" stroke="none"/>
<path d="M440.8 95.4L438.8 93.4" fill="none"/>
<path d="M435.8 90.5L440.0 92.2L437.6 94.7Z" stroke="none"/>
<path d="M467.3 96.9L464.8 92.7" fill="none"/>
<path d="M462.6 89.0L466.3 91.8L463.3 93.6Z" stroke="none"/>
<path d="M494.3 98.8L490.6 90.9" fill="none"/>
<path d="M488.9 87.1L492.2 90.1L489.0 91.6Z" stroke="none"/>
<path d="M521.2 98.9L517.2 90.8" fill="none"/>
<path d="M515.3 87.0L518.7 90.0L515.6 91.5Z" stroke="none"/>
<path d="M548.1 99.2L543.6 90.5" fill="none"/>
<path d="M541.7 86.7L545.2 89.7L542.1 91.3Z" stroke="none"/>
<path d="M574.7 99.1L570.3 90.5" fill="none"/>
<path d="M568.4 86.8L571.9 89.7L568.7 91.3Z" stroke="none"/>
<path d="M601.4 99.2L596.9 90.5" fill="none"/>
<path d="M595.0 86.7L598.5 89.7L595.4 91.3Z" stroke="none"/>
<path d="M12.6 123.4L12.0 119.9" fill="none"/>
<path d="M11.2 115.8L13.7 119.6L10.2 120.2Z" stroke="none"/>
<path d="M39.3 123.5L38.6 119.8" fill="none"/>
<path d="M37.8 115.7L40.3 119.5L36.9 120.1Z" stroke="none"/>
<path d="M66.2 122.6L65.5 120.6" fill="none"/>
<path d="M64.2 116.6L67.2 120.0L63.9 121.1Z" stroke="none"/>
<path d="M93.2 121.9L92.6 120.9" fill="none"/>
<path d="M90.5 117.3L94.1 120.0L91.1 121.8Z" stroke="none"/>
<path d="M119.2 121.5L119.0 120.9" fill="none"/>
<path d="M117.8 117.7L120.6 120.3L117.4 121.5Z" stroke="none"/>
<path d="M145.3 121.6L145.2 121.0" fill="none"/>
<path d="M145.0 117.6L147.0 120.9L143.5 121.1Z" stroke="none"/>
<path d="M172.1 121.6L172.0 121.0" fill="none"/>
<path d="M171.5 117.6L173.8 120.7L170.3 121.3Z" stroke="none"/>
<path d="M200.4 119.1L199.8 119.3" fill="none"/>
<path d="M196.5 120.1L199.4 117.6L200.2 121.0Z" stroke="none"/>
<path d="M226.5 118.2L226.1 118.6" fill="none"/>
<path d="M223.7 121.0L224.8 117.4L227.3 119.8Z" stroke="none"/>
<path d="M253.1 118.1L252.7 118.5" fill="none"/>
<path d="M250.4 121.1L251.4 117.4L254.0 119.7Z" stroke="none"/>
<path d="M280.0 118.4L279.5 118.7" fill="none"/>
<path d="M276.8 120.8L278.4 117.4L280.6 120.1Z" stroke="none"/>
<path d="M306.5 121.0L306.1 120.6" fill="none"/>
<path d="M303.6 118.2L307.3 119.3L304.8 121.8Z" stroke="none"/>
<path d="M332.5 121.4L332.3 120.9" fill="none"/>
<path d="M330.9 117.8L333.9 120.2L330.6 121.6Z" stroke="none"/>
<path d="M358.8 121.5L358.7 121.0" fill="none"/>
<path d="M357.9 117.7L360.4 120.6L357.0 121.4Z" stroke="none"/>
<path d="M383.7 121.1L384.1 120.7" fill="none"/>
<path d="M386.3 118.1L385.4 121.8L382.8 119.5Z" stroke="none"/>
<path d="M409.7 120.0L410.3 119.9" fill="none"/>
<path d="M413.6 119.2L410.6 121.6L409.9 118.2Z" stroke="none"/>
<path d="M437.2 121.3L437.5 120.8" fill="none"/>
<path d="M439.4 117.9L439.0 121.7L436.1 119.8Z" stroke="none"/>
<path d="M466.3 122.6L465.3 120.4" fill="none"/>
<path d="M463.6 116.6L466.9 119.7L463.7 121.1Z" stroke="none"/>
<path d="M494.0 124.7L491.0 118.3" fill="none"/>
<path d="M489.2 114.5L492.6 117.6L489.4 119.1Z" stroke="none"/>
<path d="M521.0 125.1L517.4 117.8" fill="none"/>
<path d="M515.5 114.1L519.0 117.1L515.8 118.6Z" stroke="none"/>
<path d="M547.9 125.5L543.8 117.4" fill="none"/>
<path d="M541.9 113.7L545.4 116.6L542.2 118.2Z" stroke="none"/>
<path d="M574.6 125.6L570.4 117.4" fill="none"/>
<path d="M568.5 113.6L572.0 116.6L568.9 118.2Z" stroke="none"/>
<path d="M601.3 125.7L597.0 117.3" fill="none"/>
<path d="M595.1 113.5L598.6 116.5L595.5 118.1Z" stroke="none"/>
<path d="M12.1 149.8L11.9 146.9" fill="none"/>
<path d="M11.7 142.7L13.7 146.8L10.2 147.0Z" stroke="none"/>
<path d="M38.7 150.0L38.6 146.7" fill="none"/>
<path d="M38.4 142.5L40.3 146.7L36.8 146.8Z" stroke="none"/>
<path d="M65.4 149.2L65.3 147.5" fill="none"/>
<path d="M65.0 143.3L67.0 147.3L63.6 147.6Z" stroke="none"/>
<path d="M92.0 148.7L92.0 148.0" fill="none"/>
<path d="M91.7 143.8L93.7 147.8L90.2 148.1Z" stroke="none"/>
<path d="M118.8 148.3L118.7 147.7" fill="none"/>
<path d="M118.2 144.2L120.4 147.4L117.0 147.9Z" stroke="none"/>
<path d="M145.8 148.1L145.6 147.6" fill="none"/>
<path d="M144.5 144.4L147.3 147.0L143.9 148.1Z" stroke="none"/>
<path d="M173.4 145.1L172.9 145.4" fill="none"/>
<path d="M170.2 147.4L171.9 144.0L174.0 146.9Z" stroke="none"/>
<path d="M199.3 144.4L199.0 145.0" fill="none"/>
<path d="M197.6 148.1L197.4 144.3L200.6 145.7Z" stroke="none"/>
<path d="M226.1 144.5L225.8 145.0" fill="none"/>
<path d="M224.1 148.0L224.3 144.2L227.3 145.9Z" stroke="none"/>
<path d="M253.0 144.7L252.6 145.2" fill="none"/>
<path d="M250.5 147.8L251.3 144.1L254.0 146.3Z" stroke="none"/>
<path d="M279.4 144.5L279.1 145.0" fill="none"/>
<path d="M277.4 148.0L277.6 144.2L280.6 145.9Z" stroke="none"/>
<path d="M305.9 144.5L305.7 145.0" fill="none"/>
<path d="M304.2 148.0L304.1 144.2L307.2 145.8Z" stroke="none"/>
<path d="M333.6 145.5L333.0 145.8" fill="none"/>
<path d="M329.8 147.0L332.4 144.1L333.6 147.4Z" stroke="none"/>
<path d="M358.2 148.2L358.2 147.6" fill="none"/>
<path d="M358.5 144.3L360.0 147.8L356.5 147.5Z" stroke="none"/>
<path d="M383.3 147.3L383.8 147.0" fill="none"/>
<path d="M386.7 145.2L384.7 148.5L382.9 145.5Z" stroke="none"/>
<path d="M409.7 146.3L410.3 146.3" fill="none"/>
<path d="M413.6 146.2L410.3 148.0L410.2 144.5Z" stroke="none"/>
<path d="M436.4 146.7L436.9 146.6" fill="none"/>
<path d="M440.2 145.8L437.3 148.3L436.5 144.9Z" stroke="none"/>
<path d="M465.2 148.2L465.1 147.6" fill="none"/>
<path d="M464.7 144.3L466.9 147.4L463.4 147.9Z" stroke="none"/>
<path d="M493.2 150.0L491.6 146.3" fill="none"/>
<path d="M490.0 142.5L493.2 145.6L490.0 147.0Z" stroke="none"/>
<path d="M520.6 151.1L517.7 145.1" fill="none"/>
<path d="M515.9 141.4L519.3 144.4L516.1 145.9Z" stroke="none"/>
<path d="M547.6 151.7L544.1 144.6" fill="none"/>
<path d="M542.2 140.8L545.6 143.8L542.5 145.3Z" stroke="none"/>
<path d="M574.4 151.9L570.6 144.3" fill="none"/>
<path d="M568.7 140.6L572.1 143.5L569.0 145.1Z" stroke="none"/>
<path d="M601.1 152.0L597.2 144.3" fill="none"/>
<path d="M595.3 140.5L598.7 143.5L595.6 145.0Z" stroke="none"/>
<path d="M12.0 176.6L11.9 173.4" fill="none"/>
<path d="M11.8 169.2L13.7 173.4L10.2 173.5Z" stroke="none"/>
<path d="M38.6 176.9L38.6 173.1" fill="none"/>
<path d="M38.5 168.9L40.3 173.1L36.8 173.1Z" stroke="none"/>
<path d="M65.3 175.9L65.2 174.1" fill="none"/>
<path d="M65.1 169.9L67.0 174.1L63.5 174.2Z" stroke="none"/>
<path d="M91.9 175.4L91.9 174.6" fill="none"/>
<path d="M91.8 170.4L93.6 174.6L90.1 174.6Z" stroke="none"/>
<path d="M118.6 175.1L118.6 174.4" fill="none"/>
<path d="M118.4 170.7L120.3 174.3L116.8 174.5Z" stroke="none"/>
<path d="M146.2 174.6L145.9 174.1" fill="none"/>
<path d="M144.1 171.2L147.4 173.2L144.4 175.0Z" stroke="none"/>
<path d="M172.7 171.1L172.4 171.6" fill="none"/>
<path d="M170.9 174.7L170.9 170.9L174.0 172.4Z" stroke="none"/>
<path d="M199.1 171.0L198.9 171.6" fill="none"/>
<path d="M197.8 174.8L197.3 171.0L200.6 172.2Z" stroke="none"/>
<path d="M225.9 171.1L225.6 171.6" fill="none"/>
<path d="M224.3 174.7L224.0 170.9L227.3 172.3Z" stroke="none"/>
<path d="M252.8 171.2L252.5 171.7" fill="none"/>
<path d="M250.7 174.6L251.0 170.8L254.0 172.7Z" stroke="none"/>
<path d="M279.2 171.1L278.9 171.6" fill="none"/>
<path d="M277.6 174.7L277.3 170.9L280.6 172.3Z" stroke="none"/>
<path d="M305.7 171.0L305.5 171.6" fill="none"/>
<path d="M304.4 174.8L303.9 171.0L307.2 172.2Z" stroke="none"/>
<path d="M332.7 171.2L332.4 171.7" fill="none"/>
<path d="M330.7 174.6L330.9 170.8L333.9 172.6Z" stroke="none"/>
<path d="M357.7 174.8L357.9 174.2" fill="none"/>
<path d="M359.0 171.0L359.5 174.8L356.2 173.6Z" stroke="none"/>
<path d="M383.6 174.3L384.0 173.9" fill="none"/>
<path d="M386.4 171.5L385.2 175.1L382.8 172.6Z" stroke="none"/>
<path d="M409.9 173.8L410.4 173.5" fill="none"/>
<path d="M413.4 172.0L411.2 175.1L409.6 172.0Z" stroke="none"/>
<path d="M436.7 174.1L437.2 173.7" fill="none"/>
<path d="M439.9 171.7L438.2 175.1L436.1 172.3Z" stroke="none"/>
<path d="M465.2 174.9L465.1 174.3" fill="none"/>
<path d="M464.7 170.9L466.8 174.1L463.4 174.5Z" stroke="none"/>
<path d="M493.1 176.6L491.7 173.1" fill="none"/>
<path d="M490.1 169.2L493.3 172.4L490.1 173.7Z" stroke="none"/>
<path d="M520.9 178.3L517.5 171.3" fill="none"/>
<path d="M515.6 167.5L519.0 170.5L515.9 172.1Z" stroke="none"/>
<path d="M547.9 178.8L543.8 170.7" fill="none"/>
<path d="M541.9 167.0L545.4 169.9L542.2 171.5Z" stroke="none"/>
<path d="M574.6 178.9L570.4 170.7" fill="none"/>
<path d="M568.5 166.9L572.0 169.9L568.9 171.5Z" stroke="none"/>
<path d="M601.3 178.9L597.0 170.6" fill="none"/>
<path d="M595.1 166.9L598.6 169.8L595.5 171.4Z" stroke="none"/>
<path d="M12.0 201.8L12.0 201.1" fill="none"/>
<path d="M11.8 197.3L13.7 201.0L10.2 201.2Z" stroke="none"/>
<path d="M38.6 202.3L38.6 201.0" fill="none"/>
<path d="M38.5 196.8L40.3 201.0L36.8 201.1Z" stroke="none"/>
<path d="M65.3 201.7L65.3 201.1" fill="none"/>
<path d="M65.1 197.4L67.0 201.0L63.5 201.1Z" stroke="none"/>
<path d="M91.9 201.7L91.9 201.0" fill="none"/>
<path d="M91.8 197.4L93.7 201.0L90.2 201.1Z" stroke="none"/>
<path d="M118.7 201.5L118.7 200.9" fill="none"/>
<path d="M118.3 197.6L120.4 200.7L116.9 201.1Z" stroke="none"/>
<path d="M146.9 200.6L146.4 200.3" fill="none"/>
<path d="M143.4 198.5L147.2 198.8L145.5 201.8Z" stroke="none"/>
<path d="M172.8 197.8L172.5 198.3" fill="none"/>
<path d="M170.8 201.3L171.0 197.5L174.0 199.2Z" stroke="none"/>
<path d="M199.2 197.7L199.0 198.3" fill="none"/>
<path d="M197.7 201.4L197.4 197.6L200.6 198.9Z" stroke="none"/>
<path d="M226.0 197.8L225.7 198.3" fill="none"/>
<path d="M224.2 201.3L224.2 197.5L227.3 199.1Z" stroke="none"/>
<path d="M252.9 197.9L252.5 198.4" fill="none"/>
<path d="M250.6 201.2L251.1 197.4L254.0 199.4Z" stroke="none"/>
<path d="M279.4 197.8L279.1 198.3" fill="none"/>
<path d="M277.4 201.3L277.6 197.5L280.6 199.2Z" stroke="none"/>
<path d="M306.0 197.8L305.7 198.3" fill="none"/>
<path d="M304.1 201.3L304.2 197.5L307.3 199.1Z" stroke="none"/>
<path d="M333.2 198.3L332.8 198.7" fill="none"/>
<path d="M330.2 200.8L331.7 197.3L333.9 200.0Z" stroke="none"/>
<path d="M358.0 201.5L358.1 200.9" fill="none"/>
<path d="M358.7 197.6L359.8 201.2L356.4 200.6Z" stroke="none"/>
<path d="M383.6 201.0L384.0 200.6" fill="none"/>
<path d="M386.4 198.1L385.3 201.8L382.8 199.3Z" stroke="none"/>
<path d="M410.3 201.0L410.7 200.6" fill="none"/>
<path d="M413.0 198.1L411.9 201.8L409.4 199.3Z" stroke="none"/>
<path d="M437.7 201.5L437.9 200.9" fill="none"/>
<path d="M438.9 197.6L439.6 201.4L436.2 200.4Z" stroke="none"/>
<path d="M465.4 201.8L465.3 201.1" fill="none"/>
<path d="M464.5 197.3L467.0 200.8L463.6 201.5Z" stroke="none"/>
<path d="M493.2 203.5L491.6 199.5" fill="none"/>
<path d="M490.0 195.6L493.2 198.8L490.0 200.2Z" stroke="none"/>
<path d="M521.2 205.5L517.2 197.4" fill="none"/>
<path d="M515.3 193.6L518.7 196.6L515.6 198.2Z" stroke="none"/>
<path d="M548.1 205.8L543.6 197.1" fill="none"/>
<path d="M541.7 193.3L545.2 196.3L542.1 197.9Z" stroke="none"/>
<path d="M574.7 205.7L570.3 197.1" fill="none"/>
<path d="M568.4 193.4L571.9 196.3L568.8 197.9Z" stroke="none"/>
<path d="M601.4 205.8L596.9 197.1" fill="none"/>
<path d="M595.0 193.3L598.5 196.3L595.4 197.9Z" stroke="none"/>
<path d="M12.0 224.2L12.0 224.8" fill="none"/>
<path d="M11.8 228.2L10.2 224.7L13.7 224.9Z" stroke="none"/>
<path d="M38.6 224.2L38.6 224.8" fill="none"/>
<path d="M38.5 228.2L36.8 224.8L40.3 224.8Z" stroke="none"/>
<path d="M65.4 224.2L65.4 224.8" fill="none"/>
<path d="M65.0 228.2L63.6 224.6L67.1 225.0Z" stroke="none"/>
<path d="M93.0 227.8L92.7 227.3" fill="none"/>
<path d="M90.7 224.6L94.1 226.3L91.2 228.4Z" stroke="none"/>
<path d="M120.5 226.3L119.9 226.3" fill="none"/>
<path d="M116.5 226.1L120.0 224.5L119.8 228.0Z" stroke="none"/>
<path d="M146.0 224.4L145.7 224.9" fill="none"/>
<path d="M144.3 228.0L144.1 224.2L147.3 225.7Z" stroke="none"/>
<path d="M172.5 224.3L172.3 224.9" fill="none"/>
<path d="M171.1 228.1L170.6 224.3L173.9 225.5Z" stroke="none"/>
<path d="M199.2 224.3L199.0 224.9" fill="none"/>
<path d="M197.7 228.1L197.3 224.3L200.6 225.5Z" stroke="none"/>
<path d="M226.0 224.4L225.7 224.9" fill="none"/>
<path d="M224.2 228.0L224.2 224.2L227.3 225.7Z" stroke="none"/>
<path d="M252.9 224.6L252.6 225.1" fill="none"/>
<path d="M250.6 227.8L251.2 224.0L254.0 226.1Z" stroke="none"/>
<path d="M279.8 224.8L279.4 225.2" fill="none"/>
<path d="M277.0 227.6L278.2 224.0L280.6 226.5Z" stroke="none"/>
<path d="M306.7 225.0L306.2 225.4" fill="none"/>
<path d="M303.4 227.4L305.2 224.0L307.2 226.8Z" stroke="none"/>
<path d="M333.5 225.3L333.0 225.6" fill="none"/>
<path d="M329.9 227.1L332.2 224.0L333.7 227.1Z" stroke="none"/>
<path d="M360.2 225.5L359.7 225.7" fill="none"/>
<path d="M356.5 226.9L359.0 224.1L360.3 227.3Z" stroke="none"/>
<path d="M384.2 228.1L384.5 227.5" fill="none"/>
<path d="M385.8 224.3L386.1 228.2L382.9 226.8Z" stroke="none"/>
<path d="M410.9 228.0L411.1 227.5" fill="none"/>
<path d="M412.4 224.4L412.7 228.2L409.5 226.8Z" stroke="none"/>
<path d="M438.4 228.2L438.4 227.6" fill="none"/>
<path d="M438.2 224.2L440.1 227.5L436.7 227.7Z" stroke="none"/>
<path d="M465.2 228.4L465.2 227.7" fill="none"/>
<path d="M464.7 224.0L466.9 227.5L463.4 228.0Z" stroke="none"/>
<path d="M492.8 229.7L491.7 226.7" fill="none"/>
<path d="M490.4 222.7L493.4 226.1L490.1 227.2Z" stroke="none"/>
<path d="M520.7 231.5L517.6 224.7" fill="none"/>
<path d="M515.8 220.9L519.2 224.0L516.0 225.4Z" stroke="none"/>
<path d="M547.8 232.1L543.8 224.1" fill="none"/>
<path d="M542.0 220.3L545.4 223.3L542.3 224.8Z" stroke="none"/>
<path d="M574.5 232.1L570.5 224.0" fill="none"/>
<path d="M568.6 220.3L572.0 223.2L568.9 224.8Z" stroke="none"/>
<path d="M601.3 232.2L597.0 223.9" fill="none"/>
<path d="M595.1 220.2L598.6 223.1L595.5 224.7Z" stroke="none"/>
<path d="M11.9 250.6L11.9 251.3" fill="none"/>
<path d="M11.9 255.1L10.2 251.3L13.7 251.3Z" stroke="none"/>
<path d="M38.6 250.4L38.6 251.1" fill="none"/>
<path d="M38.5 255.3L36.8 251.1L40.3 251.1Z" stroke="none"/>
<path d="M65.3 250.8L65.2 251.4" fill="none"/>
<path d="M65.1 254.9L63.5 251.3L67.0 251.4Z" stroke="none"/>
<path d="M92.1 250.9L92.0 251.5" fill="none"/>
<path d="M91.6 254.8L90.3 251.2L93.8 251.7Z" stroke="none"/>
<path d="M118.7 250.9L118.6 251.5" fill="none"/>
<path d="M118.3 254.8L116.9 251.3L120.4 251.6Z" stroke="none"/>
<path d="M145.3 250.7L145.2 251.3" fill="none"/>
<path d="M145.0 255.0L143.5 251.2L147.0 251.4Z" stroke="none"/>
<path d="M172.0 250.7L171.9 251.4" fill="none"/>
<path d="M171.6 255.0L170.2 251.2L173.7 251.5Z" stroke="none"/>
<path d="M198.7 250.9L198.6 251.5" fill="none"/>
<path d="M198.2 254.8L196.9 251.2L200.4 251.7Z" stroke="none"/>
<path d="M225.6 250.9L225.4 251.5" fill="none"/>
<path d="M224.6 254.8L223.8 251.1L227.1 251.9Z" stroke="none"/>
<path d="M252.8 251.1L252.5 251.7" fill="none"/>
<path d="M250.7 254.6L251.0 250.7L254.0 252.6Z" stroke="none"/>
<path d="M279.9 251.5L279.4 251.9" fill="none"/>
<path d="M276.9 254.2L278.2 250.6L280.6 253.2Z" stroke="none"/>
<path d="M306.7 251.8L306.2 252.1" fill="none"/>
<path d="M303.4 253.9L305.3 250.6L307.2 253.6Z" stroke="none"/>
<path d="M333.4 251.9L332.9 252.2" fill="none"/>
<path d="M330.0 253.8L332.1 250.6L333.8 253.7Z" stroke="none"/>
<path d="M360.1 251.9L359.6 252.2" fill="none"/>
<path d="M356.6 253.8L358.7 250.6L360.4 253.7Z" stroke="none"/>
<path d="M387.0 253.0L386.4 252.9" fill="none"/>
<path d="M383.0 252.7L386.5 251.2L386.3 254.7Z" stroke="none"/>
<path d="M412.8 254.5L412.5 254.0" fill="none"/>
<path d="M410.5 251.2L413.9 253.0L411.0 255.0Z" stroke="none"/>
<path d="M438.7 254.8L438.6 254.2" fill="none"/>
<path d="M437.9 250.9L440.3 253.9L436.9 254.6Z" stroke="none"/>
<path d="M465.0 254.9L465.0 254.3" fill="none"/>
<path d="M464.9 250.8L466.7 254.2L463.2 254.3Z" stroke="none"/>
<path d="M492.7 257.4L491.5 252.4" fill="none"/>
<path d="M490.5 248.3L493.2 252.0L489.8 252.8Z" stroke="none"/>
<path d="M519.8 258.2L517.9 251.6" fill="none"/>
<path d="M516.7 247.5L519.6 251.1L516.2 252.0Z" stroke="none"/>
<path d="M547.1 258.1L544.3 251.4" fill="none"/>
<path d="M542.7 247.6L545.9 250.8L542.7 252.1Z" stroke="none"/>
<path d="M574.1 258.3L570.8 251.2" fill="none"/>
<path d="M569.0 247.4L572.4 250.4L569.2 251.9Z" stroke="none"/>
<path d="M600.9 258.4L597.4 251.1" fill="none"/>
<path d="M595.5 247.3L598.9 250.3L595.8 251.9Z" stroke="none"/>
<path d="M12.0 277.4L12.0 278.1" fill="none"/>
<path d="M11.8 281.6L10.2 277.9L13.7 278.2Z" stroke="none"/>
<path d="M38.6 277.2L38.6 277.9" fill="none"/>
<path d="M38.5 281.8L36.8 277.9L40.3 278.0Z" stroke="none"/>
<path d="M65.3 277.4L65.3 278.0" fill="none"/>
<path d="M65.1 281.6L63.5 277.9L67.0 278.1Z" stroke="none"/>
<path d="M92.0 277.3L91.9 277.9" fill="none"/>
<path d="M91.7 281.7L90.2 277.8L93.7 278.0Z" stroke="none"/>
<path d="M118.4 276.4L118.5 278.4" fill="none"/>
<path d="M118.6 282.6L116.7 278.5L120.2 278.4Z" stroke="none"/>
<path d="M144.9 275.9L145.1 278.9" fill="none"/>
<path d="M145.4 283.1L143.4 279.0L146.9 278.8Z" stroke="none"/>
<path d="M171.8 276.6L171.8 278.2" fill="none"/>
<path d="M171.8 282.4L170.0 278.2L173.5 278.2Z" stroke="none"/>
<path d="M198.5 277.0L198.5 277.8" fill="none"/>
<path d="M198.4 282.0L196.7 277.7L200.2 277.8Z" stroke="none"/>
<path d="M225.3 277.3L225.2 278.0" fill="none"/>
<path d="M224.9 281.7L223.5 277.8L227.0 278.1Z" stroke="none"/>
<path d="M252.6 277.7L252.4 278.2" fill="none"/>
<path d="M250.9 281.3L250.8 277.5L253.9 279.0Z" stroke="none"/>
<path d="M279.8 278.1L279.4 278.5" fill="none"/>
<path d="M277.0 280.9L278.2 277.3L280.6 279.7Z" stroke="none"/>
<path d="M306.5 278.1L306.1 278.5" fill="none"/>
<path d="M303.6 280.9L304.9 277.3L307.3 279.8Z" stroke="none"/>
<path d="M333.4 278.5L332.9 278.8" fill="none"/>
<path d="M330.0 280.5L332.0 277.3L333.8 280.3Z" stroke="none"/>
<path d="M360.2 278.8L359.7 279.0" fill="none"/>
<path d="M356.5 280.2L359.0 277.4L360.3 280.6Z" stroke="none"/>
<path d="M386.9 279.0L386.4 279.2" fill="none"/>
<path d="M383.1 280.0L385.9 277.5L386.8 280.9Z" stroke="none"/>
<path d="M413.4 280.5L412.9 280.2" fill="none"/>
<path d="M409.9 278.5L413.7 278.6L412.0 281.7Z" stroke="none"/>
<path d="M440.0 280.5L439.5 280.2" fill="none"/>
<path d="M436.6 278.5L440.4 278.7L438.6 281.7Z" stroke="none"/>
<path d="M466.1 281.8L465.7 281.0" fill="none"/>
<path d="M463.8 277.2L467.3 280.1L464.2 281.8Z" stroke="none"/>
<path d="M492.9 285.8L491.1 277.3" fill="none"/>
<path d="M490.3 273.2L492.8 276.9L489.4 277.7Z" stroke="none"/>
<path d="M519.6 285.6L517.8 277.5" fill="none"/>
<path d="M516.9 273.4L519.5 277.1L516.1 277.9Z" stroke="none"/>
<path d="M547.0 284.9L544.3 278.0" fill="none"/>
<path d="M542.8 274.1L546.0 277.4L542.7 278.6Z" stroke="none"/>
<path d="M574.2 285.3L570.6 277.6" fill="none"/>
<path d="M568.9 273.7L572.2 276.8L569.1 278.3Z" stroke="none"/>
<path d="M600.9 285.2L597.3 277.6" fill="none"/>
<path d="M595.5 273.8L598.9 276.9L595.7 278.3Z" stroke="none"/>
<path d="M12.3 304.2L12.2 304.8" fill="none"/>
<path d="M11.5 308.1L10.5 304.4L13.9 305.1Z" stroke="none"/>
<path d="M38.8 304.1L38.8 304.7" fill="none"/>
<path d="M38.3 308.2L37.0 304.5L40.5 305.0Z" stroke="none"/>
<path d="M65.5 303.9L65.4 304.6" fill="none"/>
<path d="M64.9 308.4L63.7 304.3L67.1 304.8Z" stroke="none"/>
<path d="M92.0 303.4L91.9 304.7" fill="none"/>
<path d="M91.7 308.9L90.2 304.6L93.7 304.8Z" stroke="none"/>
<path d="M118.3 302.5L118.5 305.6" fill="none"/>
<path d="M118.7 309.8L116.7 305.7L120.2 305.5Z" stroke="none"/>
<path d="M144.8 302.2L145.1 306.0" fill="none"/>
<path d="M145.5 310.1L143.4 306.1L146.9 305.8Z" stroke="none"/>
<path d="M171.7 302.9L171.8 305.2" fill="none"/>
<path d="M171.9 309.4L170.0 305.2L173.5 305.1Z" stroke="none"/>
<path d="M198.5 303.6L198.5 304.5" fill="none"/>
<path d="M198.4 308.7L196.7 304.4L200.2 304.5Z" stroke="none"/>
<path d="M225.2 303.8L225.2 304.5" fill="none"/>
<path d="M225.0 308.5L223.4 304.4L226.9 304.6Z" stroke="none"/>
<path d="M252.6 304.3L252.3 304.9" fill="none"/>
<path d="M250.9 308.0L250.7 304.2L253.9 305.6Z" stroke="none"/>
<path d="M279.8 304.7L279.4 305.2" fill="none"/>
<path d="M277.0 307.6L278.1 303.9L280.6 306.4Z" stroke="none"/>
<path d="M306.5 304.7L306.0 305.2" fill="none"/>
<path d="M303.6 307.6L304.8 303.9L307.3 306.4Z" stroke="none"/>
<path d="M333.4 305.0L332.9 305.4" fill="none"/>
<path d="M330.0 307.3L331.9 303.9L333.8 306.8Z" stroke="none"/>
<path d="M360.2 305.5L359.7 305.7" fill="none"/>
<path d="M356.5 306.8L359.1 304.0L360.2 307.4Z" stroke="none"/>
<path d="M386.9 305.5L386.3 305.7" fill="none"/>
<path d="M383.1 306.8L385.7 304.0L386.9 307.3Z" stroke="none"/>
<path d="M413.6 306.5L413.0 306.4" fill="none"/>
<path d="M409.7 305.8L413.4 304.7L412.7 308.1Z" stroke="none"/>
<path d="M439.9 307.4L439.4 307.0" fill="none"/>
<path d="M436.7 304.9L440.5 305.6L438.3 308.4Z" stroke="none"/>
<path d="M466.3 308.7L465.6 307.3" fill="none"/>
<path d="M463.6 303.6L467.1 306.5L464.0 308.1Z" stroke="none"/>
<path d="M493.0 311.4L491.3 305.0" fill="none"/>
<path d="M490.2 300.9L493.0 304.5L489.6 305.4Z" stroke="none"/>
<path d="M519.7 311.6L517.9 304.8" fill="none"/>
<path d="M516.8 300.7L519.6 304.3L516.2 305.2Z" stroke="none"/>
<path d="M547.1 311.5L544.3 304.6" fill="none"/>
<path d="M542.7 300.8L545.9 304.0L542.7 305.3Z" stroke="none"/>
<path d="M574.3 312.0L570.6 304.1" fill="none"/>
<path d="M568.8 300.3L572.2 303.3L569.0 304.8Z" stroke="none"/>
<path d="M600.9 312.0L597.3 304.1" fill="none"/>
<path d="M595.5 300.3L598.9 303.4L595.7 304.9Z" stroke="none"/>
<path d="M12.5 330.9L12.3 331.5" fill="none"/>
<path d="M11.3 334.7L10.6 330.9L14.0 332.0Z" stroke="none"/>
<path d="M39.0 330.6L38.9 331.3" fill="none"/>
<path d="M38.1 335.0L37.2 330.9L40.6 331.6Z" stroke="none"/>
<path d="M65.5 330.2L65.4 331.3" fill="none"/>
<path d="M64.9 335.4L63.7 331.1L67.1 331.5Z" stroke="none"/>
<path d="M92.1 329.9L92.0 331.5" fill="none"/>
<path d="M91.6 335.7L90.2 331.4L93.7 331.7Z" stroke="none"/>
<path d="M118.6 329.6L118.5 331.8" fill="none"/>
<path d="M118.4 336.0L116.8 331.7L120.3 331.8Z" stroke="none"/>
<path d="M145.0 329.2L145.1 332.2" fill="none"/>
<path d="M145.3 336.4L143.4 332.3L146.9 332.1Z" stroke="none"/>
<path d="M171.8 329.6L171.8 331.8" fill="none"/>
<path d="M171.8 336.0L170.0 331.8L173.5 331.8Z" stroke="none"/>
<path d="M198.6 330.2L198.5 331.2" fill="none"/>
<path d="M198.3 335.4L196.8 331.1L200.3 331.3Z" stroke="none"/>
<path d="M225.4 330.5L225.3 331.2" fill="none"/>
<path d="M224.8 335.1L223.6 331.0L227.0 331.5Z" stroke="none"/>
<path d="M252.6 331.0L252.3 331.5" fill="none"/>
<path d="M250.9 334.6L250.8 330.8L253.9 332.3Z" stroke="none"/>
<path d="M279.8 331.4L279.4 331.8" fill="none"/>
<path d="M277.0 334.2L278.1 330.6L280.6 333.0Z" stroke="none"/>
<path d="M306.6 331.5L306.1 331.9" fill="none"/>
<path d="M303.5 334.1L305.0 330.6L307.3 333.2Z" stroke="none"/>
<path d="M333.5 331.8L332.9 332.1" fill="none"/>
<path d="M329.9 333.8L332.1 330.6L333.8 333.7Z" stroke="none"/>
<path d="M360.3 332.2L359.7 332.4" fill="none"/>
<path d="M356.4 333.4L359.2 330.7L360.2 334.1Z" stroke="none"/>
<path d="M386.9 332.3L386.4 332.5" fill="none"/>
<path d="M383.1 333.3L385.9 330.8L386.8 334.2Z" stroke="none"/>
<path d="M413.6 332.7L413.0 332.7" fill="none"/>
<path d="M409.7 332.9L412.9 331.0L413.2 334.4Z" stroke="none"/>
<path d="M439.9 333.9L439.4 333.6" fill="none"/>
<path d="M436.7 331.7L440.5 332.2L438.4 335.0Z" stroke="none"/>
<path d="M466.3 335.3L465.6 334.0" fill="none"/>
<path d="M463.6 330.3L467.2 333.2L464.1 334.9Z" stroke="none"/>
<path d="M492.9 336.7L491.6 332.9" fill="none"/>
<path d="M490.3 328.9L493.3 332.3L490.0 333.5Z" stroke="none"/>
<path d="M519.8 337.3L518.1 332.3" fill="none"/>
<path d="M516.7 328.3L519.7 331.8L516.4 332.9Z" stroke="none"/>
<path d="M546.9 337.7L544.5 331.8" fill="none"/>
<path d="M542.9 327.9L546.1 331.1L542.9 332.5Z" stroke="none"/>
<path d="M574.0 338.2L570.8 331.2" fill="none"/>
<path d="M569.1 327.4L572.4 330.5L569.2 332.0Z" stroke="none"/>
<path d="M600.7 338.1L597.5 331.3" fill="none"/>
<path d="M595.7 327.5L599.1 330.5L595.9 332.0Z" stroke="none"/>
<path d="M12.6 357.5L12.4 358.1" fill="none"/>
<path d="M11.2 361.4L10.7 357.5L14.0 358.6Z" stroke="none"/>
<path d="M39.1 357.1L38.9 357.8" fill="none"/>
<path d="M38.0 361.8L37.2 357.4L40.6 358.2Z" stroke="none"/>
<path d="M65.5 356.7L65.4 358.0" fill="none"/>
<path d="M64.9 362.2L63.6 357.8L67.1 358.3Z" stroke="none"/>
<path d="M92.1 356.5L92.0 358.3" fill="none"/>
<path d="M91.6 362.4L90.2 358.1L93.7 358.4Z" stroke="none"/>
<path d="M118.8 356.5L118.6 358.3" fill="none"/>
<path d="M118.2 362.4L116.9 358.1L120.3 358.4Z" stroke="none"/>
<path d="M145.3 356.1L145.2 358.6" fill="none"/>
<path d="M145.0 362.8L143.4 358.5L146.9 358.7Z" stroke="none"/>
<path d="M171.9 355.8L171.8 358.9" fill="none"/>
<path d="M171.7 363.1L170.1 358.9L173.6 358.9Z" stroke="none"/>
<path d="M198.7 356.3L198.5 358.4" fill="none"/>
<path d="M198.2 362.6L196.8 358.3L200.3 358.5Z" stroke="none"/>
<path d="M225.6 357.1L225.4 357.8" fill="none"/>
<path d="M224.6 361.8L223.7 357.5L227.2 358.2Z" stroke="none"/>
<path d="M252.7 357.7L252.4 358.2" fill="none"/>
<path d="M250.8 361.2L250.8 357.4L253.9 359.0Z" stroke="none"/>
<path d="M279.8 358.0L279.4 358.4" fill="none"/>
<path d="M277.0 360.9L278.1 357.2L280.6 359.7Z" stroke="none"/>
<path d="M306.7 358.3L306.2 358.6" fill="none"/>
<path d="M303.4 360.6L305.2 357.2L307.2 360.0Z" stroke="none"/>
<path d="M333.4 358.4L332.9 358.7" fill="none"/>
<path d="M330.0 360.5L332.0 357.2L333.8 360.2Z" stroke="none"/>
<path d="M360.2 358.6L359.6 358.9" fill="none"/>
<path d="M356.5 360.3L358.9 357.3L360.3 360.5Z" stroke="none"/>
<path d="M386.9 358.8L386.3 359.0" fill="none"/>
<path d="M383.1 360.1L385.7 357.3L386.9 360.6Z" stroke="none"/>
<path d="M413.5 358.8L413.0 359.0" fill="none"/>
<path d="M409.8 360.1L412.4 357.3L413.5 360.7Z" stroke="none"/>
<path d="M440.1 360.3L439.6 360.0" fill="none"/>
<path d="M436.5 358.6L440.3 358.4L438.8 361.6Z" stroke="none"/>
<path d="M466.1 362.3L465.4 360.5" fill="none"/>
<path d="M463.8 356.6L467.0 359.8L463.7 361.1Z" stroke="none"/>
<path d="M492.6 363.9L491.5 359.1" fill="none"/>
<path d="M490.6 355.0L493.2 358.8L489.8 359.5Z" stroke="none"/>
<path d="M519.4 364.1L518.1 358.9" fill="none"/>
<path d="M517.1 354.8L519.8 358.5L516.4 359.3Z" stroke="none"/>
<path d="M546.5 364.1L544.7 358.8" fill="none"/>
<path d="M543.3 354.8L546.3 358.2L543.0 359.4Z" stroke="none"/>
<path d="M573.5 364.4L571.1 358.4" fill="none"/>
<path d="M569.6 354.5L572.8 357.8L569.5 359.1Z" stroke="none"/>
<path d="M600.3 364.3L597.8 358.4" fill="none"/>
<path d="M596.1 354.6L599.4 357.8L596.2 359.1Z" stroke="none"/>
<path d="M12.6 384.1L12.4 384.7" fill="none"/>
<path d="M11.2 388.1L10.7 384.1L14.0 385.2Z" stroke="none"/>
<path d="M39.0 383.9L38.9 384.6" fill="none"/>
<path d="M38.1 388.3L37.2 384.2L40.6 384.9Z" stroke="none"/>
<path d="M65.6 383.6L65.5 384.5" fill="none"/>
<path d="M64.8 388.6L63.7 384.2L67.2 384.7Z" stroke="none"/>
<path d="M92.2 383.3L92.0 384.8" fill="none"/>
<path d="M91.5 388.9L90.3 384.6L93.7 385.0Z" stroke="none"/>
<path d="M118.8 383.2L118.6 384.8" fill="none"/>
<path d="M118.2 389.0L116.9 384.7L120.4 385.0Z" stroke="none"/>
<path d="M145.2 382.4L145.2 385.6" fill="none"/>
<path d="M145.1 389.8L143.4 385.5L146.9 385.6Z" stroke="none"/>
<path d="M171.8 382.1L171.8 385.9" fill="none"/>
<path d="M171.8 390.1L170.1 385.9L173.6 385.9Z" stroke="none"/>
<path d="M198.6 382.5L198.5 385.5" fill="none"/>
<path d="M198.3 389.7L196.7 385.4L200.2 385.5Z" stroke="none"/>
<path d="M225.7 383.7L225.5 384.4" fill="none"/>
<path d="M224.5 388.5L223.8 384.0L227.2 384.9Z" stroke="none"/>
<path d="M252.8 384.4L252.5 384.9" fill="none"/>
<path d="M250.7 387.8L251.0 384.0L254.0 385.8Z" stroke="none"/>
<path d="M279.8 384.7L279.4 385.1" fill="none"/>
<path d="M277.0 387.5L278.2 383.9L280.6 386.4Z" stroke="none"/>
<path d="M306.6 384.9L306.2 385.2" fill="none"/>
<path d="M303.5 387.3L305.1 383.9L307.2 386.6Z" stroke="none"/>
<path d="M333.2 384.8L332.7 385.2" fill="none"/>
<path d="M330.2 387.4L331.6 383.9L333.9 386.5Z" stroke="none"/>
<path d="M359.8 384.7L359.4 385.1" fill="none"/>
<path d="M356.9 387.5L358.2 383.9L360.6 386.4Z" stroke="none"/>
<path d="M386.9 385.4L386.3 385.6" fill="none"/>
<path d="M383.1 386.8L385.7 384.0L386.9 387.2Z" stroke="none"/>
<path d="M413.6 385.8L413.0 385.9" fill="none"/>
<path d="M409.7 386.4L412.8 384.2L413.3 387.6Z" stroke="none"/>
<path d="M439.7 387.5L439.3 387.1" fill="none"/>
<path d="M436.9 384.7L440.5 385.8L438.1 388.3Z" stroke="none"/>
<path d="M465.8 390.3L464.9 386.0" fill="none"/>
<path d="M464.1 381.9L466.7 385.7L463.2 386.4Z" stroke="none"/>
<path d="M492.2 391.9L491.4 384.5" fill="none"/>
<path d="M491.0 380.3L493.2 384.3L489.7 384.7Z" stroke="none"/>
<path d="M518.9 391.6L518.1 384.8" fill="none"/>
<path d="M517.6 380.6L519.8 384.6L516.4 385.0Z" stroke="none"/>
<path d="M546.4 390.9L544.7 385.3" fill="none"/>
<path d="M543.4 381.3L546.3 384.8L543.0 385.8Z" stroke="none"/>
<path d="M573.6 391.6L571.0 384.5" fill="none"/>
<path d="M569.5 380.6L572.6 383.9L569.3 385.1Z" stroke="none"/>
<path d="M600.2 391.4L597.7 384.7" fill="none"/>
<path d="M596.2 380.8L599.3 384.1L596.0 385.3Z" stroke="none"/>
<path d="M12.4 410.7L12.3 411.3" fill="none"/>
<path d="M11.4 414.8L10.6 410.9L14.0 411.8Z" stroke="none"/>
<path d="M38.7 410.7L38.7 411.3" fill="none"/>
<path d="M38.4 414.8L36.9 411.2L40.4 411.5Z" stroke="none"/>
<path d="M65.4 410.7L65.4 411.3" fill="none"/>
<path d="M65.0 414.8L63.6 411.1L67.1 411.5Z" stroke="none"/>
<path d="M92.2 410.5L92.1 411.2" fill="none"/>
<path d="M91.5 415.0L90.4 410.9L93.8 411.5Z" stroke="none"/>
<path d="M118.8 410.4L118.7 411.1" fill="none"/>
<path d="M118.2 415.1L116.9 410.9L120.4 411.3Z" stroke="none"/>
<path d="M145.2 409.9L145.2 411.4" fill="none"/>
<path d="M145.1 415.6L143.4 411.3L146.9 411.4Z" stroke="none"/>
<path d="M171.9 409.3L171.8 412.0" fill="none"/>
<path d="M171.7 416.2L170.1 411.9L173.6 412.0Z" stroke="none"/>
<path d="M198.8 409.8L198.6 411.5" fill="none"/>
<path d="M198.1 415.7L196.8 411.3L200.3 411.7Z" stroke="none"/>
<path d="M225.9 410.7L225.7 411.3" fill="none"/>
<path d="M224.3 414.8L224.0 410.7L227.3 412.0Z" stroke="none"/>
<path d="M252.9 411.1L252.6 411.6" fill="none"/>
<path d="M250.6 414.4L251.2 410.6L254.0 412.7Z" stroke="none"/>
<path d="M279.9 411.4L279.4 411.8" fill="none"/>
<path d="M276.9 414.1L278.2 410.5L280.6 413.1Z" stroke="none"/>
<path d="M306.6 411.5L306.2 411.9" fill="none"/>
<path d="M303.5 414.0L305.1 410.5L307.2 413.3Z" stroke="none"/>
<path d="M333.2 411.4L332.7 411.8" fill="none"/>
<path d="M330.2 414.1L331.5 410.5L333.9 413.1Z" stroke="none"/>
<path d="M359.8 411.4L359.4 411.8" fill="none"/>
<path d="M356.9 414.1L358.2 410.5L360.6 413.0Z" stroke="none"/>
<path d="M386.8 411.9L386.3 412.1" fill="none"/>
<path d="M383.2 413.6L385.5 410.6L387.0 413.7Z" stroke="none"/>
<path d="M413.6 413.1L413.0 413.0" fill="none"/>
<path d="M409.7 412.4L413.4 411.3L412.7 414.7Z" stroke="none"/>
<path d="M439.6 414.7L439.2 414.1" fill="none"/>
<path d="M437.0 410.8L440.6 413.1L437.7 415.1Z" stroke="none"/>
<path d="M465.8 417.1L464.9 412.6" fill="none"/>
<path d="M464.1 408.4L466.6 412.2L463.2 412.9Z" stroke="none"/>
<path d="M492.1 418.5L491.5 411.2" fill="none"/>
<path d="M491.1 407.0L493.2 411.0L489.7 411.4Z" stroke="none"/>
<path d="M518.7 417.7L518.2 411.9" fill="none"/>
<path d="M517.8 407.8L519.9 411.8L516.4 412.1Z" stroke="none"/>
<path d="M546.0 417.0L544.9 412.6" fill="none"/>
<path d="M543.8 408.5L546.6 412.1L543.2 413.0Z" stroke="none"/>
<path d="M573.5 418.1L571.0 411.3" fill="none"/>
<path d="M569.6 407.4L572.7 410.7L569.4 411.9Z" stroke="none"/>
<path d="M600.2 417.8L597.8 411.6" fill="none"/>
<path d="M596.2 407.7L599.4 411.0L596.1 412.3Z" stroke="none"/>
<path d="M12.4 437.4L12.2 438.0" fill="none"/>
<path d="M11.4 441.4L10.5 437.6L13.9 438.4Z" stroke="none"/>
<path d="M38.6 437.4L38.6 438.0" fill="none"/>
<path d="M38.5 441.4L36.8 438.0L40.3 438.0Z" stroke="none"/>
<path d="M65.2 437.4L65.2 438.0" fill="none"/>
<path d="M65.2 441.4L63.5 438.0L67.0 438.0Z" stroke="none"/>
<path d="M92.3 437.4L92.1 438.0" fill="none"/>
<path d="M91.4 441.4L90.4 437.7L93.9 438.4Z" stroke="none"/>
<path d="M118.3 437.4L118.3 438.0" fill="none"/>
<path d="M118.7 441.4L116.6 438.2L120.1 437.8Z" stroke="none"/>
<path d="M143.5 438.3L144.0 438.6" fill="none"/>
<path d="M146.8 440.5L143.0 440.0L145.0 437.2Z" stroke="none"/>
<path d="M171.0 437.6L171.2 438.1" fill="none"/>
<path d="M172.6 441.2L169.6 438.8L172.8 437.4Z" stroke="none"/>
<path d="M199.0 437.5L198.8 438.1" fill="none"/>
<path d="M197.9 441.3L197.1 437.6L200.5 438.5Z" stroke="none"/>
<path d="M226.2 437.8L225.9 438.3" fill="none"/>
<path d="M224.0 441.0L224.5 437.3L227.3 439.3Z" stroke="none"/>
<path d="M253.1 437.9L252.7 438.3" fill="none"/>
<path d="M250.4 440.9L251.3 437.2L254.0 439.5Z" stroke="none"/>
<path d="M279.8 438.0L279.4 438.4" fill="none"/>
<path d="M277.0 440.8L278.2 437.2L280.6 439.7Z" stroke="none"/>
<path d="M306.7 438.2L306.2 438.6" fill="none"/>
<path d="M303.4 440.6L305.1 437.2L307.2 440.0Z" stroke="none"/>
<path d="M333.4 438.3L332.9 438.6" fill="none"/>
<path d="M330.0 440.5L331.9 437.2L333.8 440.1Z" stroke="none"/>
<path d="M360.1 438.4L359.5 438.7" fill="none"/>
<path d="M356.6 440.4L358.6 437.2L360.5 440.2Z" stroke="none"/>
<path d="M386.9 438.9L386.4 439.0" fill="none"/>
<path d="M383.1 439.9L385.9 437.3L386.8 440.7Z" stroke="none"/>
<path d="M413.6 439.9L413.0 439.8" fill="none"/>
<path d="M409.7 438.9L413.5 438.1L412.5 441.5Z" stroke="none"/>
<path d="M439.8 441.1L439.3 440.6" fill="none"/>
<path d="M436.8 437.7L440.7 439.5L438.0 441.8Z" stroke="none"/>
<path d="M466.0 442.6L465.2 440.1" fill="none"/>
<path d="M463.9 436.2L466.9 439.6L463.5 440.7Z" stroke="none"/>
<path d="M492.1 443.4L491.6 439.6" fill="none"/>
<path d="M491.1 435.4L493.4 439.4L489.9 439.8Z" stroke="none"/>
<path d="M518.3 443.4L518.3 439.6" fill="none"/>
<path d="M518.2 435.4L520.0 439.6L516.5 439.6Z" stroke="none"/>
<path d="M545.6 442.6L545.1 440.3" fill="none"/>
<path d="M544.2 436.2L546.8 439.9L543.4 440.7Z" stroke="none"/>
<path d="M573.2 440.5L572.7 440.2" fill="none"/>
<path d="M569.9 438.3L573.7 438.7L571.7 441.6Z" stroke="none"/>
<path d="M599.8 440.6L599.4 440.3" fill="none"/>
<path d="M596.6 438.2L600.4 438.9L598.3 441.7Z" stroke="none"/>
<path d="M13.0 463.9L12.7 464.5" fill="none"/>
<path d="M10.8 468.2L11.1 463.7L14.2 465.3Z" stroke="none"/>
<path d="M39.1 464.0L38.9 464.6" fill="none"/>
<path d="M38.0 468.1L37.2 464.2L40.6 465.0Z" stroke="none"/>
<path d="M65.8 464.0L65.6 464.6" fill="none"/>
<path d="M64.6 468.1L63.9 464.1L67.3 465.1Z" stroke="none"/>
<path d="M92.7 464.2L92.5 464.8" fill="none"/>
<path d="M91.0 467.9L90.9 464.0L94.0 465.5Z" stroke="none"/>
<path d="M117.6 464.3L117.9 464.8" fill="none"/>
<path d="M119.4 467.8L116.3 465.6L119.5 464.0Z" stroke="none"/>
<path d="M143.2 466.0L143.8 466.0" fill="none"/>
<path d="M147.1 466.1L143.7 467.8L143.8 464.3Z" stroke="none"/>
<path d="M169.9 465.4L170.5 465.6" fill="none"/>
<path d="M173.7 466.7L169.9 467.3L171.0 464.0Z" stroke="none"/>
<path d="M199.3 464.3L199.1 464.8" fill="none"/>
<path d="M197.6 467.8L197.5 464.0L200.6 465.6Z" stroke="none"/>
<path d="M226.4 464.5L226.0 465.0" fill="none"/>
<path d="M223.8 467.6L224.7 463.9L227.3 466.1Z" stroke="none"/>
<path d="M253.0 464.5L252.7 465.0" fill="none"/>
<path d="M250.5 467.6L251.3 463.9L254.0 466.1Z" stroke="none"/>
<path d="M279.8 464.6L279.4 465.0" fill="none"/>
<path d="M277.0 467.5L278.1 463.8L280.6 466.2Z" stroke="none"/>
<path d="M306.7 464.9L306.2 465.2" fill="none"/>
<path d="M303.4 467.2L305.2 463.8L307.2 466.6Z" stroke="none"/>
<path d="M333.5 465.0L333.0 465.3" fill="none"/>
<path d="M329.9 467.1L332.1 463.8L333.8 466.9Z" stroke="none"/>
<path d="M360.3 465.3L359.7 465.5" fill="none"/>
<path d="M356.4 466.8L359.0 463.9L360.4 467.1Z" stroke="none"/>
<path d="M387.0 465.6L386.4 465.7" fill="none"/>
<path d="M383.0 466.5L386.0 464.0L386.8 467.4Z" stroke="none"/>
<path d="M413.7 466.2L413.1 466.1" fill="none"/>
<path d="M409.6 465.9L413.2 464.4L413.0 467.9Z" stroke="none"/>
<path d="M440.3 467.1L439.7 466.8" fill="none"/>
<path d="M436.3 465.0L440.5 465.2L438.9 468.3Z" stroke="none"/>
<path d="M466.6 468.0L466.0 467.3" fill="none"/>
<path d="M463.3 464.1L467.3 466.2L464.6 468.4Z" stroke="none"/>
<path d="M492.8 468.7L492.1 467.3" fill="none"/>
<path d="M490.4 463.4L493.7 466.5L490.5 468.0Z" stroke="none"/>
<path d="M519.4 468.5L518.9 467.4" fill="none"/>
<path d="M517.1 463.6L520.4 466.6L517.3 468.1Z" stroke="none"/>
<path d="M547.0 467.0L546.3 466.7" fill="none"/>
<path d="M542.8 465.1L547.1 465.1L545.6 468.3Z" stroke="none"/>
<path d="M573.5 466.1L572.9 466.1" fill="none"/>
<path d="M569.6 466.0L573.0 464.3L572.9 467.8Z" stroke="none"/>
<path d="M600.2 466.3L599.6 466.2" fill="none"/>
<path d="M596.2 465.8L599.8 464.5L599.4 467.9Z" stroke="none"/>
<path d="M14.2 490.2L12.4 492.1" fill="none"/>
<path d="M9.6 495.2L11.2 490.9L13.7 493.3Z" stroke="none"/>
<path d="M41.1 490.0L38.9 492.3" fill="none"/>
<path d="M36.0 495.4L37.7 491.1L40.2 493.5Z" stroke="none"/>
<path d="M67.6 490.1L65.6 492.2" fill="none"/>
<path d="M62.8 495.3L64.4 491.0L66.9 493.4Z" stroke="none"/>
<path d="M93.8 490.5L92.7 491.8" fill="none"/>
<path d="M89.9 494.9L91.4 490.6L94.0 492.9Z" stroke="none"/>
<path d="M119.7 491.1L119.3 491.6" fill="none"/>
<path d="M117.3 494.3L117.9 490.5L120.7 492.6Z" stroke="none"/>
<path d="M146.1 490.9L145.8 491.5" fill="none"/>
<path d="M144.2 494.5L144.3 490.6L147.4 492.3Z" stroke="none"/>
<path d="M172.8 491.0L172.5 491.5" fill="none"/>
<path d="M170.8 494.4L171.0 490.6L174.0 492.4Z" stroke="none"/>
<path d="M199.9 491.1L199.4 491.6" fill="none"/>
<path d="M197.0 494.3L198.1 490.4L200.8 492.7Z" stroke="none"/>
<path d="M226.5 491.3L226.1 491.7" fill="none"/>
<path d="M223.7 494.1L224.8 490.5L227.3 492.9Z" stroke="none"/>
<path d="M253.1 491.2L252.7 491.7" fill="none"/>
<path d="M250.4 494.2L251.4 490.5L254.0 492.8Z" stroke="none"/>
<path d="M279.9 491.4L279.4 491.8" fill="none"/>
<path d="M276.9 494.0L278.3 490.5L280.6 493.0Z" stroke="none"/>
<path d="M307.1 491.2L306.4 491.7" fill="none"/>
<path d="M303.0 494.2L305.4 490.3L307.4 493.2Z" stroke="none"/>
<path d="M334.1 491.3L333.0 492.0" fill="none"/>
<path d="M329.3 494.1L332.1 490.5L333.8 493.5Z" stroke="none"/>
<path d="M360.9 491.5L359.6 492.1" fill="none"/>
<path d="M355.8 493.9L358.9 490.5L360.3 493.7Z" stroke="none"/>
<path d="M387.7 491.7L386.2 492.2" fill="none"/>
<path d="M382.3 493.7L385.6 490.6L386.8 493.9Z" stroke="none"/>
<path d="M414.4 492.0L412.9 492.4" fill="none"/>
<path d="M408.9 493.4L412.5 490.7L413.4 494.1Z" stroke="none"/>
<path d="M441.0 492.6L439.8 492.6" fill="none"/>
<path d="M435.6 492.8L439.8 490.9L439.9 494.4Z" stroke="none"/>
<path d="M467.4 493.3L466.6 493.1" fill="none"/>
<path d="M462.5 492.1L467.0 491.4L466.2 494.8Z" stroke="none"/>
<path d="M494.0 493.5L493.2 493.2" fill="none"/>
<path d="M489.2 491.9L493.7 491.6L492.6 494.9Z" stroke="none"/>
<path d="M521.1 492.9L519.6 492.8" fill="none"/>
<path d="M515.4 492.5L519.7 491.0L519.5 494.5Z" stroke="none"/>
<path d="M547.9 492.7L546.1 492.7" fill="none"/>
<path d="M541.9 492.7L546.1 491.0L546.1 494.5Z" stroke="none"/>
<path d="M573.9 492.9L573.2 492.8" fill="none"/>
<path d="M569.2 492.5L573.3 491.1L573.1 494.6Z" stroke="none"/>
<path d="M600.2 493.0L599.6 492.9" fill="none"/>
<path d="M596.2 492.4L599.9 491.2L599.3 494.7Z" stroke="none"/>
<path d="M14.8 516.7L12.1 519.1" fill="none"/>
<path d="M9.0 522.0L10.9 517.9L13.3 520.4Z" stroke="none"/>
<path d="M41.4 516.5L38.7 519.2" fill="none"/>
<path d="M35.7 522.2L37.5 518.0L39.9 520.4Z" stroke="none"/>
<path d="M68.0 516.5L65.3 519.2" fill="none"/>
<path d="M62.4 522.2L64.1 518.0L66.6 520.5Z" stroke="none"/>
<path d="M94.8 516.7L92.0 519.2" fill="none"/>
<path d="M88.9 522.0L90.9 517.9L93.2 520.5Z" stroke="none"/>
<path d="M121.1 517.0L119.0 518.9" fill="none"/>
<path d="M115.9 521.7L117.8 517.6L120.2 520.1Z" stroke="none"/>
<path d="M147.6 516.9L145.6 518.9" fill="none"/>
<path d="M142.7 521.8L144.4 517.6L146.9 520.1Z" stroke="none"/>
<path d="M174.2 517.0L172.4 518.8" fill="none"/>
<path d="M169.4 521.7L171.1 517.5L173.6 520.0Z" stroke="none"/>
<path d="M200.9 517.1L199.1 518.8" fill="none"/>
<path d="M196.0 521.6L197.9 517.5L200.2 520.1Z" stroke="none"/>
<path d="M227.5 517.3L225.9 518.7" fill="none"/>
<path d="M222.7 521.4L224.7 517.3L227.0 520.0Z" stroke="none"/>
<path d="M254.0 517.5L252.8 518.5" fill="none"/>
<path d="M249.5 521.2L251.7 517.1L253.9 519.9Z" stroke="none"/>
<path d="M280.9 517.4L279.3 518.7" fill="none"/>
<path d="M275.9 521.3L278.2 517.3L280.3 520.1Z" stroke="none"/>
<path d="M307.8 517.3L305.7 518.9" fill="none"/>
<path d="M302.3 521.4L304.6 517.5L306.7 520.3Z" stroke="none"/>
<path d="M334.6 517.5L332.3 519.0" fill="none"/>
<path d="M328.8 521.2L331.4 517.5L333.3 520.4Z" stroke="none"/>
<path d="M361.5 517.6L358.9 519.1" fill="none"/>
<path d="M355.2 521.1L358.0 517.5L359.7 520.6Z" stroke="none"/>
<path d="M388.4 517.4L385.3 519.2" fill="none"/>
<path d="M381.6 521.3L384.4 517.7L386.1 520.7Z" stroke="none"/>
<path d="M415.2 517.2L411.7 519.3" fill="none"/>
<path d="M408.1 521.5L410.8 517.8L412.6 520.8Z" stroke="none"/>
<path d="M441.8 517.6L438.6 519.2" fill="none"/>
<path d="M434.8 521.1L437.8 517.6L439.3 520.8Z" stroke="none"/>
<path d="M468.2 518.6L465.8 519.2" fill="none"/>
<path d="M461.7 520.1L465.4 517.4L466.2 520.9Z" stroke="none"/>
<path d="M494.8 518.9L492.5 519.2" fill="none"/>
<path d="M488.4 519.8L492.3 517.5L492.8 520.9Z" stroke="none"/>
<path d="M521.7 518.5L518.9 519.2" fill="none"/>
<path d="M514.8 520.2L518.4 517.5L519.3 520.9Z" stroke="none"/>
<path d="M548.5 518.3L545.4 519.2" fill="none"/>
<path d="M541.3 520.4L544.9 517.5L545.9 520.9Z" stroke="none"/>
<path d="M574.8 518.7L572.4 519.2" fill="none"/>
<path d="M568.3 520.0L572.1 517.5L572.8 520.9Z" stroke="none"/>
<path d="M601.0 519.3L599.5 519.3" fill="none"/>
<path d="M595.4 519.4L599.5 517.6L599.6 521.1Z" stroke="none"/>
<path d="M15.2 543.4L11.9 546.0" fill="none"/>
<path d="M8.6 548.6L10.8 544.6L13.0 547.4Z" stroke="none"/>
<path d="M41.6 543.2L38.6 546.0" fill="none"/>
<path d="M35.5 548.8L37.4 544.7L39.7 547.3Z" stroke="none"/>
<path d="M68.6 543.1L65.0 546.2" fill="none"/>
<path d="M61.8 548.9L63.9 544.8L66.1 547.5Z" stroke="none"/>
<path d="M96.2 542.9L90.9 546.7" fill="none"/>
<path d="M87.5 549.1L89.9 545.3L91.9 548.1Z" stroke="none"/>
<path d="M122.4 543.1L117.9 546.4" fill="none"/>
<path d="M114.6 548.9L116.9 545.0L119.0 547.8Z" stroke="none"/>
<path d="M148.0 543.5L145.4 545.7" fill="none"/>
<path d="M142.3 548.5L144.3 544.4L146.6 547.1Z" stroke="none"/>
<path d="M174.8 543.3L171.9 545.9" fill="none"/>
<path d="M168.8 548.7L170.7 544.6L173.1 547.2Z" stroke="none"/>
<path d="M201.9 542.8L198.1 546.3" fill="none"/>
<path d="M195.0 549.2L196.9 545.0L199.3 547.6Z" stroke="none"/>
<path d="M228.4 543.1L224.9 546.1" fill="none"/>
<path d="M221.8 548.9L223.8 544.8L226.1 547.5Z" stroke="none"/>
<path d="M254.9 543.6L252.0 545.8" fill="none"/>
<path d="M248.6 548.4L250.9 544.5L253.0 547.2Z" stroke="none"/>
<path d="M281.4 543.5L278.6 545.8" fill="none"/>
<path d="M275.4 548.5L277.5 544.5L279.8 547.1Z" stroke="none"/>
<path d="M308.0 543.3L305.2 545.8" fill="none"/>
<path d="M302.1 548.7L304.0 544.5L306.4 547.1Z" stroke="none"/>
<path d="M334.8 543.6L331.9 545.8" fill="none"/>
<path d="M328.6 548.4L330.9 544.4L333.0 547.2Z" stroke="none"/>
<path d="M361.9 543.8L358.4 546.0" fill="none"/>
<path d="M354.8 548.2L357.5 544.5L359.3 547.5Z" stroke="none"/>
<path d="M388.9 543.1L384.4 546.4" fill="none"/>
<path d="M381.1 548.9L383.4 545.0L385.5 547.8Z" stroke="none"/>
<path d="M415.8 542.3L410.6 546.9" fill="none"/>
<path d="M407.5 549.7L409.4 545.6L411.8 548.2Z" stroke="none"/>
<path d="M442.4 542.6L437.4 546.7" fill="none"/>
<path d="M434.2 549.4L436.3 545.4L438.5 548.1Z" stroke="none"/>
<path d="M468.9 544.1L464.8 546.1" fill="none"/>
<path d="M461.0 547.9L464.0 544.5L465.6 547.6Z" stroke="none"/>
<path d="M495.4 544.7L491.7 546.0" fill="none"/>
<path d="M487.8 547.3L491.2 544.3L492.3 547.6Z" stroke="none"/>
<path d="M522.5 543.8L517.8 546.2" fill="none"/>
<path d="M514.0 548.2L517.0 544.7L518.6 547.8Z" stroke="none"/>
<path d="M549.2 543.5L544.2 546.4" fill="none"/>
<path d="M540.6 548.5L543.3 544.9L545.1 547.9Z" stroke="none"/>
<path d="M575.6 544.3L571.4 546.1" fill="none"/>
<path d="M567.5 547.7L570.7 544.5L572.1 547.7Z" stroke="none"/>
<path d="M601.8 545.4L598.8 545.9" fill="none"/>
<path d="M594.6 546.6L598.5 544.2L599.1 547.6Z" stroke="none"/>
<path d="M16.1 570.1L11.3 573.0" fill="none"/>
<path d="M7.7 575.2L10.4 571.5L12.2 574.5Z" stroke="none"/>
<path d="M42.8 569.9L37.8 573.1" fill="none"/>
<path d="M34.3 575.4L36.9 571.6L38.8 574.6Z" stroke="none"/>
<path d="M69.8 569.6L64.1 573.4" fill="none"/>
<path d="M60.6 575.7L63.2 571.9L65.1 574.8Z" stroke="none"/>
<path d="M96.8 569.2L90.4 573.7" fill="none"/>
<path d="M86.9 576.1L89.4 572.2L91.4 575.1Z" stroke="none"/>
<path d="M123.3 569.3L117.2 573.6" fill="none"/>
<path d="M113.7 576.0L116.2 572.1L118.2 575.0Z" stroke="none"/>
<path d="M149.2 569.8L144.6 573.1" fill="none"/>
<path d="M141.1 575.5L143.6 571.6L145.6 574.5Z" stroke="none"/>
<path d="M175.5 569.5L171.3 573.1" fill="none"/>
<path d="M168.1 575.8L170.2 571.7L172.4 574.4Z" stroke="none"/>
<path d="M202.0 569.1L197.9 573.2" fill="none"/>
<path d="M194.9 576.2L196.6 572.0L199.1 574.5Z" stroke="none"/>
<path d="M228.7 569.4L224.6 573.1" fill="none"/>
<path d="M221.5 575.9L223.4 571.8L225.8 574.4Z" stroke="none"/>
<path d="M255.3 570.1L251.6 572.8" fill="none"/>
<path d="M248.2 575.2L250.6 571.3L252.6 574.2Z" stroke="none"/>
<path d="M281.4 569.9L278.5 572.6" fill="none"/>
<path d="M275.4 575.4L277.3 571.3L279.7 573.9Z" stroke="none"/>
<path d="M307.9 569.8L305.2 572.5" fill="none"/>
<path d="M302.2 575.5L304.0 571.3L306.4 573.7Z" stroke="none"/>
<path d="M335.0 570.2L331.8 572.6" fill="none"/>
<path d="M328.4 575.1L330.7 571.2L332.8 574.0Z" stroke="none"/>
<path d="M362.2 570.4L358.1 572.8" fill="none"/>
<path d="M354.5 574.9L357.2 571.3L359.0 574.3Z" stroke="none"/>
<path d="M389.2 569.4L384.1 573.3" fill="none"/>
<path d="M380.8 575.9L383.1 572.0L385.2 574.7Z" stroke="none"/>
<path d="M415.9 568.4L410.4 573.9" fill="none"/>
<path d="M407.4 576.9L409.2 572.7L411.6 575.1Z" stroke="none"/>
<path d="M442.6 568.7L437.1 573.8" fill="none"/>
<path d="M434.0 576.6L435.9 572.5L438.3 575.0Z" stroke="none"/>
<path d="M469.4 570.4L464.3 573.0" fill="none"/>
<path d="M460.5 574.9L463.5 571.4L465.1 574.5Z" stroke="none"/>
<path d="M495.9 571.3L491.3 572.7" fill="none"/>
<path d="M487.3 574.0L490.8 571.1L491.9 574.4Z" stroke="none"/>
<path d="M522.5 570.9L517.9 572.8" fill="none"/>
<path d="M514.0 574.4L517.2 571.2L518.5 574.4Z" stroke="none"/>
<path d="M549.2 570.7L544.4 572.9" fill="none"/>
<path d="M540.6 574.6L543.7 571.3L545.1 574.5Z" stroke="none"/>
<path d="M576.0 571.4L571.2 572.8" fill="none"/>
<path d="M567.1 573.9L570.7 571.1L571.7 574.4Z" stroke="none"/>
<path d="M602.4 572.1L598.1 572.7" fill="none"/>
<path d="M594.0 573.2L597.9 570.9L598.4 574.4Z" stroke="none"/>
<path d="M16.9 596.7L10.7 599.9" fill="none"/>
<path d="M6.9 601.9L9.9 598.4L11.5 601.5Z" stroke="none"/>
<path d="M43.6 596.5L37.1 600.1" fill="none"/>
<path d="M33.5 602.1L36.3 598.5L38.0 601.6Z" stroke="none"/>
<path d="M70.3 596.3L63.7 600.2" fill="none"/>
<path d="M60.1 602.3L62.8 598.6L64.6 601.7Z" stroke="none"/>
<path d="M96.8 596.2L90.4 600.2" fill="none"/>
<path d="M86.9 602.4L89.5 598.7L91.4 601.7Z" stroke="none"/>
<path d="M123.3 596.3L117.3 600.1" fill="none"/>
<path d="M113.7 602.3L116.3 598.6L118.2 601.6Z" stroke="none"/>
<path d="M149.8 596.5L144.1 599.9" fill="none"/>
<path d="M140.5 602.1L143.2 598.4L145.0 601.4Z" stroke="none"/>
<path d="M176.5 596.5L170.7 600.0" fill="none"/>
<path d="M167.1 602.1L169.8 598.5L171.6 601.5Z" stroke="none"/>
<path d="M202.7 596.3L197.6 599.9" fill="none"/>
<path d="M194.2 602.3L196.6 598.5L198.6 601.3Z" stroke="none"/>
<path d="M229.2 596.5L224.4 599.7" fill="none"/>
<path d="M221.0 602.1L223.5 598.3L225.4 601.2Z" stroke="none"/>
<path d="M255.9 596.9L251.2 599.6" fill="none"/>
<path d="M247.6 601.7L250.4 598.1L252.1 601.1Z" stroke="none"/>
<path d="M282.7 596.9L277.8 599.6" fill="none"/>
<path d="M274.1 601.7L277.0 598.1L278.7 601.2Z" stroke="none"/>
<path d="M309.4 596.9L304.4 599.7" fill="none"/>
<path d="M300.7 601.7L303.5 598.1L305.2 601.2Z" stroke="none"/>
<path d="M336.0 597.2L331.1 599.6" fill="none"/>
<path d="M327.4 601.4L330.4 598.0L331.9 601.1Z" stroke="none"/>
<path d="M362.8 597.5L357.8 599.5" fill="none"/>
<path d="M353.9 601.1L357.1 597.9L358.5 601.1Z" stroke="none"/>
<path d="M389.4 596.9L384.3 599.7" fill="none"/>
<path d="M380.6 601.7L383.4 598.2L385.1 601.2Z" stroke="none"/>
<path d="M416.1 596.1L410.6 600.1" fill="none"/>
<path d="M407.2 602.5L409.6 598.6L411.6 601.5Z" stroke="none"/>
<path d="M443.4 597.2L437.1 599.8" fill="none"/>
<path d="M433.2 601.4L436.5 598.2L437.8 601.4Z" stroke="none"/>
<path d="M470.3 598.1L463.7 599.6" fill="none"/>
<path d="M459.6 600.5L463.3 597.9L464.1 601.3Z" stroke="none"/>
<path d="M496.4 598.3L490.9 599.4" fill="none"/>
<path d="M486.8 600.3L490.6 597.7L491.2 601.2Z" stroke="none"/>
<path d="M523.1 598.6L517.6 599.4" fill="none"/>
<path d="M513.4 600.0L517.3 597.7L517.8 601.1Z" stroke="none"/>
<path d="M550.3 599.0L543.6 599.4" fill="none"/>
<path d="M539.5 599.6L543.5 597.6L543.7 601.1Z" stroke="none"/>
<path d="M577.1 599.1L570.2 599.3" fill="none"/>
<path d="M566.0 599.5L570.1 597.6L570.2 601.1Z" stroke="none"/>
<path d="M603.3 599.1L597.3 599.3" fill="none"/>
<path d="M593.1 599.5L597.3 597.6L597.4 601.1Z" stroke="none"/>
<path d="M17.5 623.5L10.2 626.7" fill="none"/>
<path d="M6.3 628.4L9.5 625.1L10.9 628.3Z" stroke="none"/>
<path d="M44.1 623.1L36.8 626.9" fill="none"/>
<path d="M33.0 628.8L36.0 625.3L37.6 628.4Z" stroke="none"/>
<path d="M70.4 623.0L63.6 626.9" fill="none"/>
<path d="M60.0 628.9L62.8 625.3L64.5 628.4Z" stroke="none"/>
<path d="M97.2 623.0L90.2 626.9" fill="none"/>
<path d="M86.5 628.9L89.3 625.3L91.0 628.4Z" stroke="none"/>
<path d="M123.5 623.2L117.2 626.7" fill="none"/>
<path d="M113.5 628.7L116.3 625.2L118.0 628.2Z" stroke="none"/>
<path d="M150.1 623.3L143.9 626.6" fill="none"/>
<path d="M140.2 628.6L143.1 625.1L144.8 628.1Z" stroke="none"/>
<path d="M177.1 623.1L170.2 626.8" fill="none"/>
<path d="M166.5 628.8L169.4 625.2L171.0 628.3Z" stroke="none"/>
<path d="M203.7 623.3L197.0 626.7" fill="none"/>
<path d="M193.2 628.6L196.2 625.1L197.7 628.3Z" stroke="none"/>
<path d="M230.1 623.7L224.0 626.5" fill="none"/>
<path d="M220.1 628.2L223.2 624.9L224.7 628.1Z" stroke="none"/>
<path d="M256.4 623.9L250.9 626.3" fill="none"/>
<path d="M247.1 628.0L250.2 624.7L251.6 627.9Z" stroke="none"/>
<path d="M283.7 623.8L277.0 626.5" fill="none"/>
<path d="M273.1 628.1L276.3 624.9L277.6 628.2Z" stroke="none"/>
<path d="M310.6 623.7L303.4 626.6" fill="none"/>
<path d="M299.5 628.2L302.7 625.0L304.0 628.2Z" stroke="none"/>
<path d="M336.9 624.3L330.5 626.3" fill="none"/>
<path d="M326.5 627.6L330.0 624.7L331.1 628.0Z" stroke="none"/>
<path d="M363.5 624.7L357.3 626.2" fill="none"/>
<path d="M353.2 627.2L356.9 624.5L357.7 627.9Z" stroke="none"/>
<path d="M389.8 624.6L384.2 626.2" fill="none"/>
<path d="M380.2 627.3L383.8 624.5L384.7 627.9Z" stroke="none"/>
<path d="M416.7 624.6L410.7 626.2" fill="none"/>
<path d="M406.6 627.3L410.2 624.5L411.1 627.9Z" stroke="none"/>
<path d="M444.2 625.1L436.6 626.2" fill="none"/>
<path d="M432.4 626.8L436.3 624.5L436.8 627.9Z" stroke="none"/>
<path d="M470.8 625.1L463.2 626.2" fill="none"/>
<path d="M459.1 626.8L463.0 624.5L463.5 627.9Z" stroke="none"/>
<path d="M496.7 625.3L490.7 626.1" fill="none"/>
<path d="M486.5 626.6L490.5 624.3L490.9 627.8Z" stroke="none"/>
<path d="M523.4 625.7L517.3 626.0" fill="none"/>
<path d="M513.1 626.2L517.2 624.2L517.4 627.7Z" stroke="none"/>
<path d="M550.8 625.9L543.2 626.0" fill="none"/>
<path d="M539.0 626.0L543.2 624.2L543.2 627.7Z" stroke="none"/>
<path d="M577.5 625.9L569.8 626.0" fill="none"/>
<path d="M565.6 626.0L569.8 624.2L569.8 627.7Z" stroke="none"/>
<path d="M603.6 625.9L597.0 626.0" fill="none"/>
<path d="M592.8 626.0L597.0 624.2L597.0 627.7Z" stroke="none"/>
<path d="M18.1 650.5L9.7 653.4" fill="none"/>
<path d="M5.7 654.7L9.1 651.7L10.2 655.0Z" stroke="none"/>
<path d="M44.7 650.0L36.3 653.6" fill="none"/>
<path d="M32.4 655.2L35.6 651.9L37.0 655.2Z" stroke="none"/>
<path d="M71.5 649.6L62.7 653.8" fill="none"/>
<path d="M58.9 655.6L61.9 652.2L63.4 655.4Z" stroke="none"/>
<path d="M97.8 649.7L89.7 653.6" fill="none"/>
<path d="M85.9 655.5L89.0 652.1L90.5 655.2Z" stroke="none"/>
<path d="M123.4 649.8L117.3 653.3" fill="none"/>
<path d="M113.6 655.4L116.4 651.8L118.2 654.8Z" stroke="none"/>
<path d="M149.7 649.9L144.3 653.1" fill="none"/>
<path d="M140.6 655.3L143.4 651.6L145.1 654.6Z" stroke="none"/>
<path d="M176.9 650.2L170.5 653.2" fill="none"/>
<path d="M166.7 655.0L169.7 651.6L171.2 654.8Z" stroke="none"/>
<path d="M204.1 650.5L196.8 653.2" fill="none"/>
<path d="M192.8 654.7L196.2 651.6L197.4 654.9Z" stroke="none"/>
<path d="M230.4 650.6L223.7 653.1" fill="none"/>
<path d="M219.8 654.6L223.1 651.5L224.3 654.8Z" stroke="none"/>
<path d="M256.5 650.8L250.9 652.9" fill="none"/>
<path d="M247.0 654.4L250.3 651.3L251.5 654.5Z" stroke="none"/>
<path d="M283.3 650.8L277.4 652.9" fill="none"/>
<path d="M273.5 654.4L276.9 651.3L278.0 654.6Z" stroke="none"/>
<path d="M310.2 650.8L303.9 653.0" fill="none"/>
<path d="M299.9 654.4L303.3 651.4L304.5 654.7Z" stroke="none"/>
<path d="M337.0 651.4L330.5 652.9" fill="none"/>
<path d="M326.4 653.8L330.1 651.2L330.9 654.6Z" stroke="none"/>
<path d="M363.7 651.5L357.1 652.9" fill="none"/>
<path d="M353.0 653.7L356.7 651.2L357.5 654.6Z" stroke="none"/>
<path d="M389.9 651.6L384.2 652.8" fill="none"/>
<path d="M380.1 653.6L383.8 651.0L384.5 654.5Z" stroke="none"/>
<path d="M416.3 651.9L411.2 652.7" fill="none"/>
<path d="M407.0 653.3L410.9 650.9L411.4 654.4Z" stroke="none"/>
<path d="M443.5 652.0L437.3 652.7" fill="none"/>
<path d="M433.1 653.2L437.1 651.0L437.5 654.5Z" stroke="none"/>
<path d="M470.0 652.0L464.0 652.7" fill="none"/>
<path d="M459.9 653.2L463.8 651.0L464.2 654.4Z" stroke="none"/>
<path d="M496.1 652.4L491.3 652.6" fill="none"/>
<path d="M487.1 652.8L491.2 650.9L491.4 654.4Z" stroke="none"/>
<path d="M523.0 652.6L517.7 652.6" fill="none"/>
<path d="M513.5 652.6L517.7 650.8L517.7 654.3Z" stroke="none"/>
<path d="M550.3 652.6L543.7 652.6" fill="none"/>
<path d="M539.5 652.6L543.7 650.8L543.7 654.3Z" stroke="none"/>
<path d="M577.1 652.6L570.2 652.6" fill="none"/>
<path d="M566.0 652.6L570.2 650.8L570.2 654.3Z" stroke="none"/>
<path d="M603.2 652.7L597.4 652.6" fill="none"/>
<path d="M593.2 652.5L597.4 650.8L597.3 654.3Z" stroke="none"/>
<path d="M19.0 677.8L8.9 679.9" fill="none"/>
<path d="M4.8 680.7L8.6 678.1L9.3 681.6Z" stroke="none"/>
<path d="M45.9 677.9L35.3 679.9" fill="none"/>
<path d="M31.2 680.6L35.0 678.1L35.6 681.6Z" stroke="none"/>
<path d="M71.8 676.8L62.5 680.2" fill="none"/>
<path d="M58.6 681.7L61.9 678.6L63.1 681.9Z" stroke="none"/>
<path d="M97.4 676.5L90.1 680.1" fill="none"/>
<path d="M86.3 682.0L89.3 678.5L90.9 681.7Z" stroke="none"/>
<path d="M122.4 676.0L117.8 679.8" fill="none"/>
<path d="M114.6 682.5L116.7 678.5L118.9 681.2Z" stroke="none"/>
<path d="M148.1 676.0L145.0 679.4" fill="none"/>
<path d="M142.2 682.5L143.7 678.3L146.3 680.6Z" stroke="none"/>
<path d="M175.8 677.1L171.5 679.4" fill="none"/>
<path d="M167.8 681.4L170.7 677.8L172.4 680.9Z" stroke="none"/>
<path d="M203.2 677.4L197.6 679.6" fill="none"/>
<path d="M193.7 681.1L196.9 678.0L198.2 681.2Z" stroke="none"/>
<path d="M230.0 677.5L224.2 679.6" fill="none"/>
<path d="M220.2 681.0L223.6 677.9L224.8 681.2Z" stroke="none"/>
<path d="M256.2 678.1L251.4 679.4" fill="none"/>
<path d="M247.3 680.4L250.9 677.7L251.8 681.0Z" stroke="none"/>
<path d="M282.2 678.7L278.7 679.2" fill="none"/>
<path d="M274.6 679.8L278.5 677.5L279.0 680.9Z" stroke="none"/>
<path d="M308.7 678.9L305.6 679.2" fill="none"/>
<path d="M301.4 679.6L305.4 677.4L305.8 680.9Z" stroke="none"/>
<path d="M336.3 678.5L331.2 679.3" fill="none"/>
<path d="M327.1 680.0L330.9 677.6L331.5 681.1Z" stroke="none"/>
<path d="M363.4 678.4L357.5 679.4" fill="none"/>
<path d="M353.3 680.1L357.1 677.7L357.8 681.1Z" stroke="none"/>
<path d="M389.5 678.9L384.7 679.3" fill="none"/>
<path d="M380.5 679.6L384.5 677.5L384.8 681.0Z" stroke="none"/>
<path d="M415.0 679.5L412.4 679.3" fill="none"/>
<path d="M408.3 679.0L412.5 677.6L412.3 681.0Z" stroke="none"/>
<path d="M440.6 679.8L439.9 679.6" fill="none"/>
<path d="M436.0 678.7L440.3 677.9L439.5 681.3Z" stroke="none"/>
<path d="M467.3 679.8L466.6 679.6" fill="none"/>
<path d="M462.6 678.7L467.0 677.9L466.2 681.3Z" stroke="none"/>
<path d="M494.9 679.8L492.5 679.4" fill="none"/>
<path d="M488.3 678.7L492.8 677.7L492.2 681.1Z" stroke="none"/>
<path d="M522.2 679.6L518.5 679.3" fill="none"/>
<path d="M514.3 678.9L518.6 677.5L518.3 681.0Z" stroke="none"/>
<path d="M549.0 679.4L545.0 679.3" fill="none"/>
<path d="M540.8 679.1L545.0 677.5L544.9 681.0Z" stroke="none"/>
<path d="M575.7 679.4L571.6 679.3" fill="none"/>
<path d="M567.4 679.1L571.6 677.5L571.5 681.0Z" stroke="none"/>
<path d="M602.4 679.6L598.2 679.2" fill="none"/>
<path d="M594.0 678.9L598.3 677.5L598.1 681.0Z" stroke="none"/>
<path d="M19.5 704.9L8.5 706.4" fill="none"/>
<path d="M4.3 706.9L8.2 704.6L8.7 708.1Z" stroke="none"/>
<path d="M47.0 705.9L34.3 705.9" fill="none"/>
<path d="M30.1 705.9L34.3 704.2L34.3 707.7Z" stroke="none"/>
<path d="M72.7 703.2L61.6 707.2" fill="none"/>
<path d="M57.7 708.6L61.0 705.6L62.2 708.8Z" stroke="none"/>
<path d="M97.3 703.4L90.2 706.7" fill="none"/>
<path d="M86.4 708.4L89.5 705.1L91.0 708.2Z" stroke="none"/>
<path d="M121.4 701.8L118.0 706.6" fill="none"/>
<path d="M115.6 710.0L116.6 705.6L119.5 707.6Z" stroke="none"/>
<path d="M146.3 701.6L145.1 706.2" fill="none"/>
<path d="M144.0 710.2L143.4 705.7L146.8 706.6Z" stroke="none"/>
<path d="M175.6 704.5L172.0 705.8" fill="none"/>
<path d="M168.0 707.3L171.3 704.2L172.6 707.5Z" stroke="none"/>
<path d="M202.4 704.5L198.4 705.9" fill="none"/>
<path d="M194.5 707.3L197.9 704.3L199.0 707.6Z" stroke="none"/>
<path d="M229.6 704.8L224.7 706.0" fill="none"/>
<path d="M220.6 707.0L224.3 704.3L225.0 707.7Z" stroke="none"/>
<path d="M256.1 705.5L251.6 705.9" fill="none"/>
<path d="M247.4 706.3L251.4 704.2L251.7 707.7Z" stroke="none"/>
<path d="M281.7 705.8L279.3 705.9" fill="none"/>
<path d="M275.1 706.0L279.3 704.1L279.4 707.6Z" stroke="none"/>
<path d="M308.1 705.9L306.2 705.9" fill="none"/>
<path d="M302.0 705.9L306.2 704.1L306.2 707.6Z" stroke="none"/>
<path d="M335.3 705.9L332.3 705.9" fill="none"/>
<path d="M328.1 705.9L332.3 704.1L332.3 707.6Z" stroke="none"/>
<path d="M362.8 706.4L358.1 705.9" fill="none"/>
<path d="M353.9 705.4L358.3 704.1L357.9 707.6Z" stroke="none"/>
<path d="M389.2 707.1L384.8 705.9" fill="none"/>
<path d="M380.8 704.7L385.3 704.2L384.4 707.5Z" stroke="none"/>
<path d="M414.4 706.9L412.9 706.3" fill="none"/>
<path d="M408.9 704.9L413.5 704.7L412.3 708.0Z" stroke="none"/>
<path d="M440.0 706.9L439.5 706.6" fill="none"/>
<path d="M436.6 704.9L440.4 705.1L438.7 708.1Z" stroke="none"/>
<path d="M466.7 706.9L466.2 706.6" fill="none"/>
<path d="M463.2 704.9L467.0 705.1L465.3 708.1Z" stroke="none"/>
<path d="M494.3 707.1L492.8 706.4" fill="none"/>
<path d="M488.9 704.7L493.5 704.8L492.0 708.0Z" stroke="none"/>
<path d="M521.9 706.7L518.7 706.0" fill="none"/>
<path d="M514.6 705.1L519.1 704.3L518.4 707.7Z" stroke="none"/>
<path d="M548.9 706.0L545.1 705.9" fill="none"/>
<path d="M540.9 705.8L545.1 704.2L545.1 707.7Z" stroke="none"/>
<path d="M575.5 705.9L571.8 705.9" fill="none"/>
<path d="M567.6 705.9L571.8 704.2L571.7 707.7Z" stroke="none"/>
<path d="M602.1 706.4L598.5 705.9" fill="none"/>
<path d="M594.3 705.4L598.8 704.2L598.3 707.7Z" stroke="none"/>
<path d="M18.8 730.7L9.0 733.3" fill="none"/>
<path d="M5.0 734.4L8.6 731.6L9.5 735.0Z" stroke="none"/>
<path d="M45.1 730.2L35.9 733.5" fill="none"/>
<path d="M32.0 734.9L35.3 731.9L36.5 735.2Z" stroke="none"/>
<path d="M72.0 730.5L62.4 733.4" fill="none"/>
<path d="M58.4 734.6L61.9 731.7L62.9 735.1Z" stroke="none"/>
<path d="M98.5 730.7L89.2 733.3" fill="none"/>
<path d="M85.2 734.4L88.8 731.6L89.7 735.0Z" stroke="none"/>
<path d="M124.1 730.4L116.8 733.2" fill="none"/>
<path d="M112.9 734.7L116.2 731.6L117.5 734.8Z" stroke="none"/>
<path d="M149.3 730.5L144.8 732.7" fill="none"/>
<path d="M141.0 734.6L144.0 731.2L145.5 734.3Z" stroke="none"/>
<path d="M177.8 732.5L170.0 732.6" fill="none"/>
<path d="M165.8 732.6L170.0 730.8L170.0 734.3Z" stroke="none"/>
<path d="M203.4 731.8L197.7 732.7" fill="none"/>
<path d="M193.5 733.3L197.4 730.9L198.0 734.4Z" stroke="none"/>
<path d="M230.1 732.8L224.3 732.5" fill="none"/>
<path d="M220.1 732.3L224.4 730.8L224.2 734.3Z" stroke="none"/>
<path d="M257.0 733.8L250.6 732.3" fill="none"/>
<path d="M246.5 731.3L251.0 730.6L250.2 734.0Z" stroke="none"/>
<path d="M282.5 733.1L278.4 732.6" fill="none"/>
<path d="M274.3 732.0L278.6 730.8L278.2 734.3Z" stroke="none"/>
<path d="M308.5 732.7L305.8 732.6" fill="none"/>
<path d="M301.6 732.4L305.9 730.8L305.8 734.3Z" stroke="none"/>
<path d="M335.7 733.3L331.9 732.6" fill="none"/>
<path d="M327.7 731.8L332.2 730.9L331.5 734.3Z" stroke="none"/>
<path d="M363.2 735.5L357.1 731.8" fill="none"/>
<path d="M353.5 729.6L358.0 730.3L356.2 733.3Z" stroke="none"/>
<path d="M390.0 736.2L383.4 731.4" fill="none"/>
<path d="M380.0 728.9L384.4 729.9L382.3 732.8Z" stroke="none"/>
<path d="M415.4 734.9L411.4 732.4" fill="none"/>
<path d="M407.9 730.2L412.4 730.9L410.5 733.9Z" stroke="none"/>
<path d="M440.4 733.9L439.8 733.5" fill="none"/>
<path d="M436.2 731.2L440.7 732.0L438.8 735.0Z" stroke="none"/>
<path d="M467.4 734.7L465.7 733.2" fill="none"/>
<path d="M462.5 730.4L466.9 731.9L464.5 734.5Z" stroke="none"/>
<path d="M494.6 735.5L491.6 732.5" fill="none"/>
<path d="M488.6 729.6L492.8 731.3L490.4 733.8Z" stroke="none"/>
<path d="M521.6 734.4L518.6 732.7" fill="none"/>
<path d="M514.9 730.7L519.4 731.2L517.7 734.3Z" stroke="none"/>
<path d="M548.5 733.6L545.3 732.7" fill="none"/>
<path d="M541.3 731.5L545.9 731.0L544.8 734.4Z" stroke="none"/>
<path d="M574.9 734.1L572.0 732.8" fill="none"/>
<path d="M568.2 731.0L572.7 731.2L571.3 734.3Z" stroke="none"/>
<path d="M601.5 734.2L598.6 732.8" fill="none"/>
<path d="M594.9 730.9L599.4 731.2L597.8 734.3Z" stroke="none"/>
<path d="M18.5 757.3L9.3 760.0" fill="none"/>
<path d="M5.3 761.1L8.8 758.3L9.8 761.6Z" stroke="none"/>
<path d="M45.2 757.1L35.9 760.0" fill="none"/>
<path d="M31.9 761.3L35.4 758.3L36.5 761.7Z" stroke="none"/>
<path d="M71.8 757.9L62.7 759.7" fill="none"/>
<path d="M58.6 760.5L62.4 758.0L63.1 761.4Z" stroke="none"/>
<path d="M98.8 759.7L89.1 759.0" fill="none"/>
<path d="M84.9 758.7L89.2 757.3L89.0 760.7Z" stroke="none"/>
<path d="M125.1 759.0L116.1 759.3" fill="none"/>
<path d="M111.9 759.4L116.1 757.5L116.2 761.0Z" stroke="none"/>
<path d="M150.5 758.0L143.9 759.5" fill="none"/>
<path d="M139.8 760.4L143.5 757.8L144.3 761.2Z" stroke="none"/>
<path d="M177.2 758.6L170.5 759.3" fill="none"/>
<path d="M166.4 759.8L170.3 757.6L170.7 761.1Z" stroke="none"/>
<path d="M203.6 758.8L197.5 759.3" fill="none"/>
<path d="M193.3 759.6L197.3 757.5L197.6 761.0Z" stroke="none"/>
<path d="M230.5 760.6L223.7 758.8" fill="none"/>
<path d="M219.7 757.8L224.2 757.1L223.3 760.5Z" stroke="none"/>
<path d="M257.4 761.3L250.1 758.6" fill="none"/>
<path d="M246.1 757.1L250.7 756.9L249.5 760.2Z" stroke="none"/>
<path d="M283.7 760.7L277.2 758.8" fill="none"/>
<path d="M273.1 757.7L277.7 757.2L276.7 760.5Z" stroke="none"/>
<path d="M309.5 760.0L304.8 759.1" fill="none"/>
<path d="M300.6 758.4L305.1 757.4L304.4 760.9Z" stroke="none"/>
<path d="M336.3 761.2L331.0 758.9" fill="none"/>
<path d="M327.1 757.2L331.7 757.3L330.2 760.5Z" stroke="none"/>
<path d="M363.6 763.4L356.4 757.6" fill="none"/>
<path d="M353.1 755.0L357.5 756.3L355.3 759.0Z" stroke="none"/>
<path d="M390.4 763.7L382.9 757.4" fill="none"/>
<path d="M379.6 754.7L384.0 756.1L381.7 758.7Z" stroke="none"/>
<path d="M416.4 762.9L410.2 758.1" fill="none"/>
<path d="M406.9 755.5L411.3 756.7L409.2 759.5Z" stroke="none"/>
<path d="M441.6 762.0L438.2 759.1" fill="none"/>
<path d="M435.0 756.4L439.3 757.8L437.1 760.5Z" stroke="none"/>
<path d="M468.1 762.9L464.5 758.7" fill="none"/>
<path d="M461.8 755.5L465.8 757.5L463.2 759.8Z" stroke="none"/>
<path d="M494.8 763.0L491.1 758.6" fill="none"/>
<path d="M488.4 755.4L492.4 757.5L489.8 759.7Z" stroke="none"/>
<path d="M521.5 762.0L518.2 759.2" fill="none"/>
<path d="M515.0 756.4L519.4 757.8L517.0 760.5Z" stroke="none"/>
<path d="M547.9 761.8L545.1 759.4" fill="none"/>
<path d="M541.9 756.6L546.3 758.1L544.0 760.7Z" stroke="none"/>
<path d="M574.4 762.0L571.7 759.3" fill="none"/>
<path d="M568.7 756.4L572.9 758.1L570.5 760.6Z" stroke="none"/>
<path d="M601.2 761.7L598.4 759.4" fill="none"/>
<path d="M595.2 756.7L599.6 758.1L597.3 760.7Z" stroke="none"/>
<path d="M18.3 784.1L9.6 786.5" fill="none"/>
<path d="M5.5 787.6L9.1 784.8L10.0 788.2Z" stroke="none"/>
<path d="M45.0 784.2L36.2 786.4" fill="none"/>
<path d="M32.1 787.5L35.8 784.8L36.6 788.1Z" stroke="none"/>
<path d="M71.6 784.8L62.9 786.2" fill="none"/>
<path d="M58.8 786.9L62.6 784.5L63.2 787.9Z" stroke="none"/>
<path d="M98.5 785.7L89.4 785.9" fill="none"/>
<path d="M85.2 786.0L89.4 784.2L89.5 787.7Z" stroke="none"/>
<path d="M124.9 785.4L116.3 786.0" fill="none"/>
<path d="M112.1 786.3L116.2 784.2L116.5 787.7Z" stroke="none"/>
<path d="M150.7 784.8L143.7 786.1" fill="none"/>
<path d="M139.6 786.9L143.4 784.4L144.0 787.8Z" stroke="none"/>
<path d="M177.0 784.9L170.7 786.0" fill="none"/>
<path d="M166.6 786.8L170.4 784.3L171.0 787.8Z" stroke="none"/>
<path d="M203.6 785.6L197.5 785.9" fill="none"/>
<path d="M193.3 786.1L197.4 784.2L197.6 787.7Z" stroke="none"/>
<path d="M230.4 786.9L223.9 785.6" fill="none"/>
<path d="M219.8 784.8L224.2 783.9L223.5 787.3Z" stroke="none"/>
<path d="M257.2 787.6L250.3 785.4" fill="none"/>
<path d="M246.3 784.1L250.8 783.7L249.7 787.1Z" stroke="none"/>
<path d="M283.6 787.2L277.2 785.5" fill="none"/>
<path d="M273.2 784.5L277.7 783.8L276.8 787.2Z" stroke="none"/>
<path d="M309.8 787.0L304.4 785.7" fill="none"/>
<path d="M300.3 784.7L304.8 784.0L304.0 787.4Z" stroke="none"/>
<path d="M336.4 788.0L330.8 785.4" fill="none"/>
<path d="M327.0 783.7L331.5 783.8L330.0 787.0Z" stroke="none"/>
<path d="M363.5 789.6L356.6 784.6" fill="none"/>
<path d="M353.2 782.1L357.7 783.2L355.6 786.0Z" stroke="none"/>
<path d="M390.2 790.0L383.1 784.3" fill="none"/>
<path d="M379.8 781.7L384.2 783.0L382.0 785.7Z" stroke="none"/>
<path d="M416.3 789.3L410.3 784.9" fill="none"/>
<path d="M407.0 782.4L411.4 783.5L409.3 786.3Z" stroke="none"/>
<path d="M441.9 788.8L437.9 785.5" fill="none"/>
<path d="M434.7 782.9L439.0 784.2L436.8 786.9Z" stroke="none"/>
<path d="M468.2 789.3L464.6 785.4" fill="none"/>
<path d="M461.7 782.4L465.8 784.3L463.3 786.6Z" stroke="none"/>
<path d="M494.8 789.4L491.2 785.4" fill="none"/>
<path d="M488.4 782.3L492.5 784.3L489.9 786.6Z" stroke="none"/>
<path d="M521.5 788.7L518.2 785.8" fill="none"/>
<path d="M515.0 783.0L519.4 784.5L517.0 787.1Z" stroke="none"/>
<path d="M547.9 788.4L545.1 786.0" fill="none"/>
<path d="M541.9 783.3L546.2 784.7L544.0 787.3Z" stroke="none"/>
<path d="M574.4 788.5L571.7 786.0" fill="none"/>
<path d="M568.7 783.2L572.9 784.7L570.5 787.3Z" stroke="none"/>
<path d="M601.2 788.3L598.4 786.1" fill="none"/>
<path d="M595.2 783.4L599.6 784.7L597.3 787.4Z" stroke="none"/>
</g>
</g>
<rect x="10" y="67" width="587" height="720" fill="none" stroke="#000" stroke-width="1.3"/>
<rect x="607" y="67.00" width="24" height="20.06" fill="#640000"/>
<rect x="607" y="86.46" width="24" height="20.06" fill="#780000"/>
<rect x="607" y="105.92" width="24" height="20.06" fill="#8c0000"/>
<rect x="607" y="125.38" width="24" height="20.06" fill="#a00000"/>
<rect x="607" y="144.83" width="24" height="20.06" fill="#c80000"/>
<rect x="607" y="164.29" width="24" height="20.06" fill="#e10000"/>
<rect x="607" y="183.75" width="24" height="20.06" fill="#ff0000"/>
<rect x="607" y="203.21" width="24" height="20.06" fill="#ff4646"/>
<rect x="607" y="222.67" width="24" height="20.06" fill="#ff6464"/>
<rect x="607" y="242.12" width="24" height="20.06" fill="#ff7d7d"/>
<rect x="607" y="261.58" width="24" height="20.06" fill="#ff9696"/>
<rect x="607" y="281.04" width="24" height="20.06" fill="#5a5a00"/>
<rect x="607" y="300.50" width="24" height="20.06" fill="#6e6e00"/>
<rect x="607" y="319.96" width="24" height="20.06" fill="#7d7d00"/>
<rect x="607" y="339.42" width="24" height="20.06" fill="#8c8c00"/>
<rect x="607" y="358.88" width="24" height="20.06" fill="#a0a000"/>
<rect x="607" y="378.33" width="24" height="20.06" fill="#b4b400"/>
<rect x="607" y="397.79" width="24" height="20.06" fill="#c3c300"/>
<rect x="607" y="417.25" width="24" height="20.06" fill="#d2d200"/>
<rect x="607" y="436.71" width="24" height="20.06" fill="#e6e600"/>
<rect x="607" y="456.17" width="24" height="20.06" fill="#f5f500"/>
<rect x="607" y="475.62" width="24" height="20.06" fill="#006400"/>
<rect x="607" y="495.08" width="24" height="20.06" fill="#007800"/>
<rect x="607" y="514.54" width="24" height="20.06" fill="#008c00"/>
<rect x="607" y="534.00" width="24" height="20.06" fill="#00a000"/>
<rect x="607" y="553.46" width="24" height="20.06" fill="#00b400"/>
<rect x="607" y="572.92" width="24" height="20.06" fill="#00c800"/>
<rect x="607" y="592.38" width="24" height="20.06" fill="#00e100"/>
<rect x="607" y="611.83" width="24" height="20.06" fill="#00ff00"/>
<rect x="607" y="631.29" width="24" height="20.06" fill="#64fa64"/>
<rect x="607" y="650.75" width="24" height="20.06" fill="#9afa9a"/>
<rect x="607" y="670.21" width="24" height="20.06" fill="#3492f5"/>
<rect x="607" y="689.67" width="24" height="20.06" fill="#4a9ef0"/>
<rect x="607" y="709.12" width="24" height="20.06" fill="#64aae8"/>
<rect x="607" y="728.58" width="24" height="20.06" fill="#88bee6"/>
<rect x="607" y="748.04" width="24" height="20.06" fill="#9ec8e6"/>
<text x="637" y="91.8" class="lb">0.3001</text>
<text x="637" y="111.2" class="lb">0.2801</text>
<text x="637" y="130.7" class="lb">0.2601</text>
<text x="637" y="150.1" class="lb">0.2401</text>
<text x="637" y="169.6" class="lb">0.2201</text>
<text x="637" y="189.1" class="lb">0.2001</text>
<text x="637" y="208.5" class="lb">0.1901</text>
<text x="637" y="228.0" class="lb">0.1801</text>
<text x="637" y="247.4" class="lb">0.1701</text>
<text x="637" y="266.9" class="lb">0.1601</text>
<text x="637" y="286.3" class="lb">0.1501</text>
<text x="637" y="305.8" class="lb">0.1441</text>
<text x="637" y="325.3" class="lb">0.1381</text>
<text x="637" y="344.7" class="lb">0.1321</text>
<text x="637" y="364.2" class="lb">0.1261</text>
<text x="637" y="383.6" class="lb">0.1201</text>
<text x="637" y="403.1" class="lb">0.1141</text>
<text x="637" y="422.6" class="lb">0.1081</text>
<text x="637" y="442.0" class="lb">0.1021</text>
<text x="637" y="461.5" class="lb">0.0961</text>
<text x="637" y="480.9" class="lb">0.0901</text>
<text x="637" y="500.4" class="lb">0.0841</text>
<text x="637" y="519.8" class="lb">0.0781</text>
<text x="637" y="539.3" class="lb">0.0721</text>
<text x="637" y="558.8" class="lb">0.0661</text>
<text x="637" y="578.2" class="lb">0.0601</text>
<text x="637" y="597.7" class="lb">0.0541</text>
<text x="637" y="617.1" class="lb">0.0481</text>
<text x="637" y="636.6" class="lb">0.0421</text>
<text x="637" y="656.0" class="lb">0.0361</text>
<text x="637" y="675.5" class="lb">0.0301</text>
<text x="637" y="695.0" class="lb">0.0241</text>
<text x="637" y="714.4" class="lb">0.0181</text>
<text x="637" y="733.9" class="lb">0.0121</text>
<text x="637" y="753.3" class="lb">0.0061</text>
<text x="637" y="772.8" class="lb">0</text>
</svg></body></html>
